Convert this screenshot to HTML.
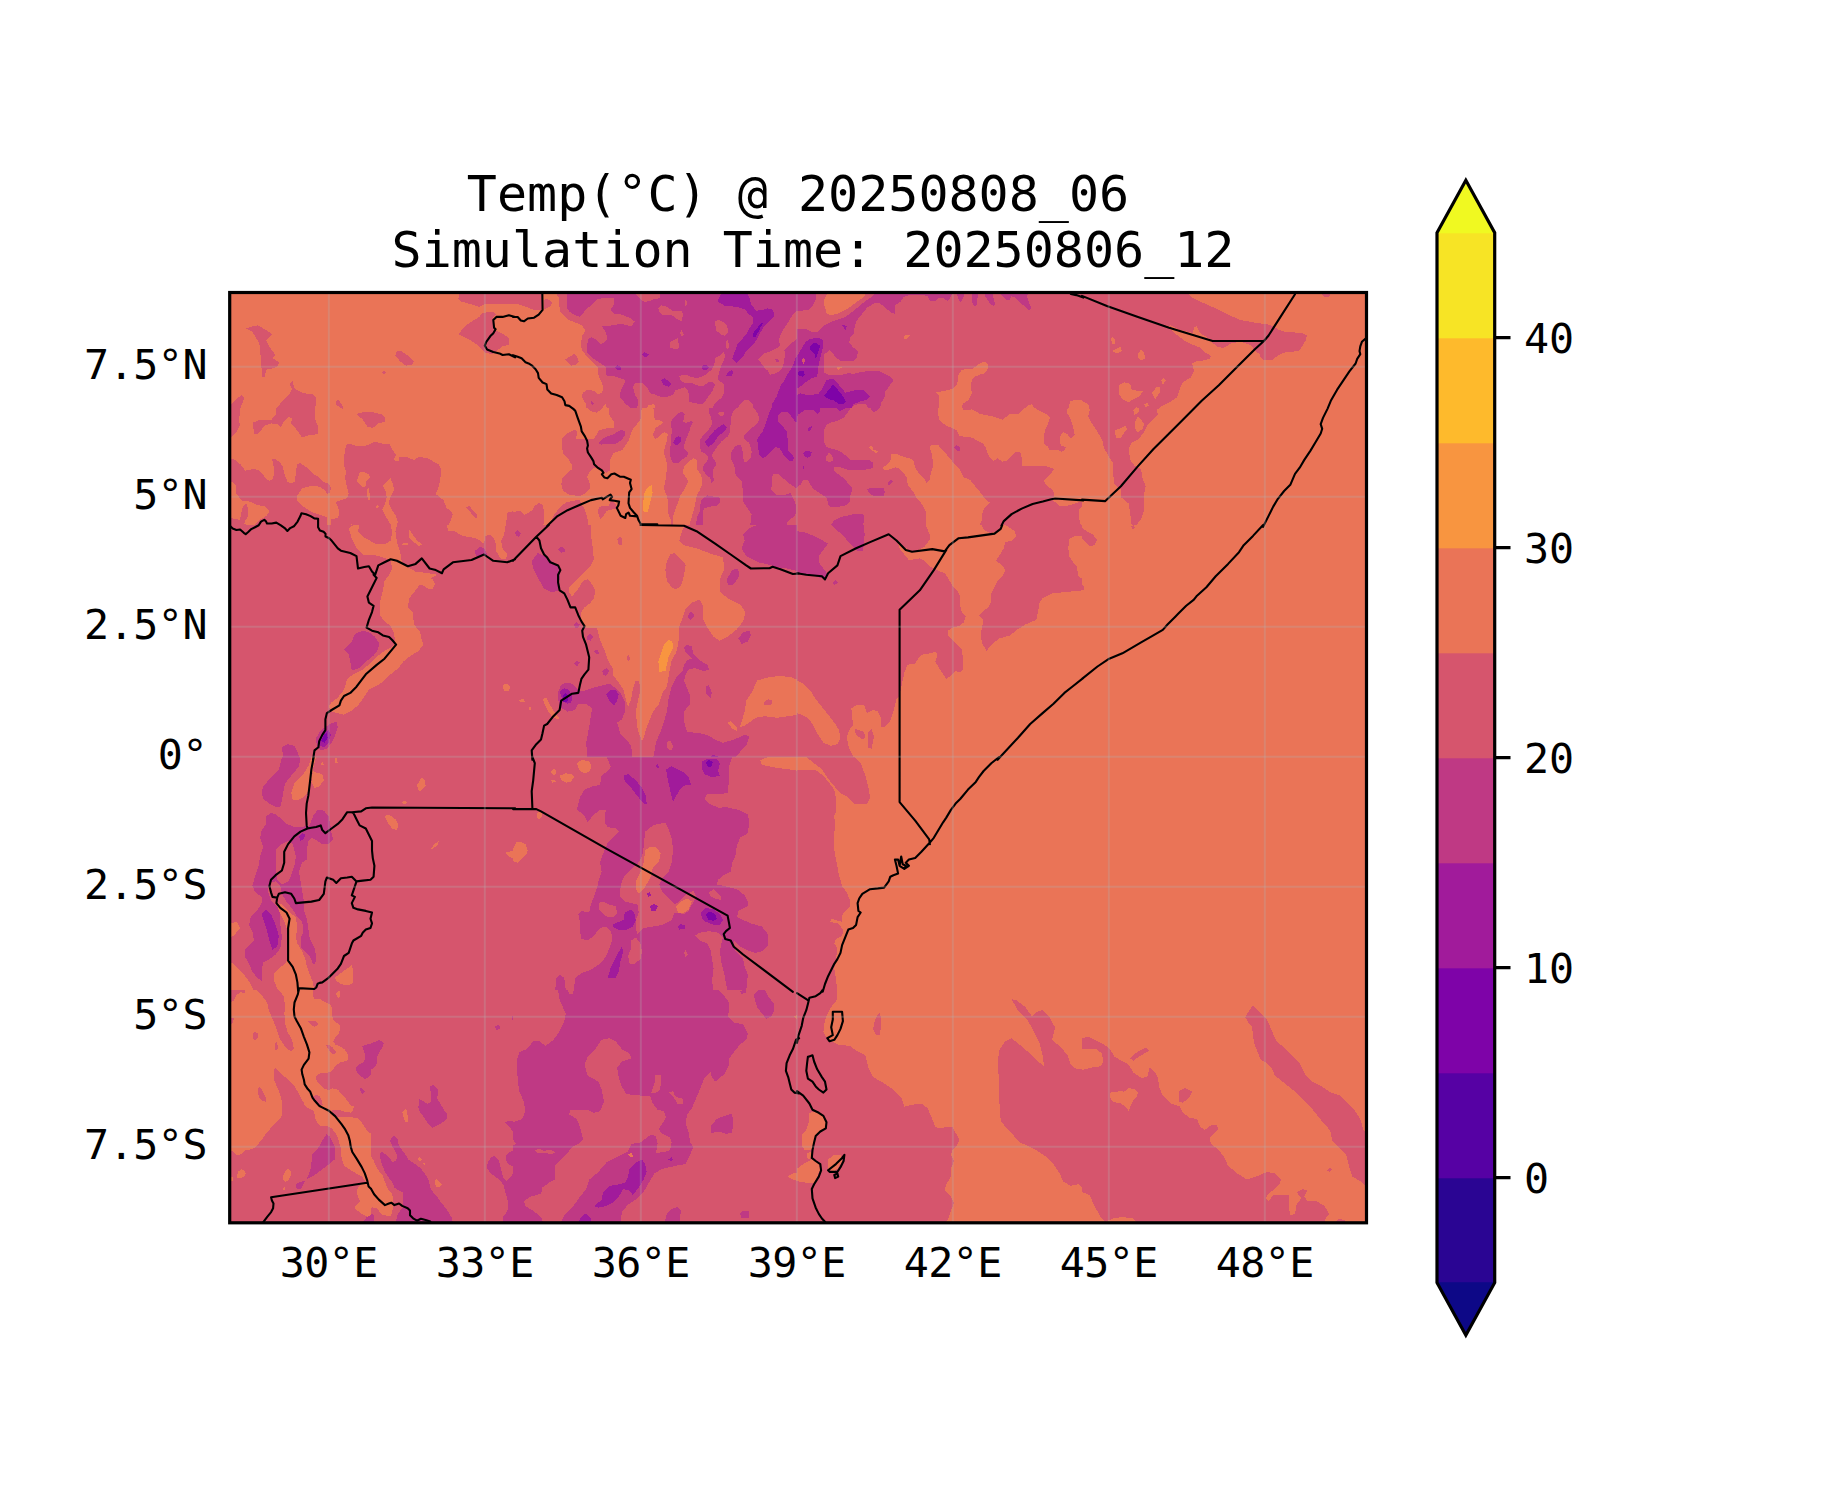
<!DOCTYPE html>
<html><head><meta charset="utf-8"><title>Temp</title>
<style>html,body{margin:0;padding:0;background:#fff;overflow:hidden}svg{display:block}</style>
</head><body>
<svg width="1833" height="1500" viewBox="0 0 1833 1500"><rect width="1833" height="1500" fill="#fff"/><defs><clipPath id="ax"><rect x="229.7" y="292.5" width="1136.8" height="930.3"/></clipPath></defs><g clip-path="url(#ax)" shape-rendering="crispEdges"><rect x="229.7" y="292.5" width="1136.8" height="930.3" fill="#ea7457"/><clipPath id="g0"><rect x="229" y="292" width="285" height="233"/></clipPath><g clip-path="url(#g0)"><rect x="229" y="292" width="285" height="233" fill="#ea7457"/><path d="M244.2 329.0L252.3 326.5L257.8 325.4L266.3 330.1L272.5 334.3L266.3 340.2L270.2 348.0L275.6 355.0L272.5 358.1L279.5 362.7L277.2 366.6L270.2 369.0L266.3 369.7L264.8 376.7L262.4 376.7L261.6 369.0L260.9 358.9L259.3 343.3L252.3 331.6L247.7 329.3Z" fill="#d6556d"/><path d="M458.3 299.0L459.1 293.6L515.1 293.6L515.1 303.7L484.0 304.4L479.3 306.8L471.5 304.4L460.7 301.3Z" fill="#d6556d"/><path d="M458.3 334.0L466.9 324.6L479.3 316.9L482.4 313.0L493.3 311.4L496.4 314.5L493.3 317.7L494.1 326.2L496.4 330.9L504.2 334.8L509.6 338.6L508.9 344.9L502.6 346.4L496.4 351.1L491.7 354.2L485.5 352.6L477.8 344.9L470.0 340.2Z" fill="#d6556d"/><path d="M396.1 351.9L400.0 350.3L407.8 355.7L414.0 361.2L412.5 364.3L406.2 365.8L400.0 361.2L395.4 355.7Z" fill="#d6556d"/><path d="M381.4 372.1L384.5 371.0L386.8 372.8L383.7 374.4Z" fill="#d6556d"/><path d="M253.1 422.6L260.1 419.5L271.0 420.3L275.6 414.8L275.6 409.4L281.9 401.6L288.9 394.6L292.0 389.2L289.6 384.5L292.7 380.6L294.3 388.4L303.6 393.1L313.7 394.6L316.1 397.7L315.3 408.6L315.3 419.5L318.4 427.3L317.6 434.3L309.8 435.0L302.1 437.4L295.9 428.8L291.2 423.4L292.0 417.9L288.1 417.2L283.4 422.6L281.1 427.3L277.2 424.2L271.0 423.4L264.8 425.7L257.8 434.3L253.9 434.3Z" fill="#d6556d"/><path d="M229.0 407.0L237.6 397.7L241.4 395.4L244.5 397.7L240.7 407.0L239.1 419.5L239.9 425.7L236.8 431.9L229.0 439.7Z" fill="#d6556d"/><path d="M335.5 400.8L338.6 400.1L342.5 405.5L343.3 409.4L340.2 407.8L336.3 404.7Z" fill="#d6556d"/><path d="M356.5 414.0L364.3 412.0L373.6 412.5L382.9 414.8L385.2 417.9L385.2 421.8L378.3 423.4L372.8 428.0L367.4 426.5L362.7 419.5Z" fill="#d6556d"/><path d="M344.0 456.8L346.4 445.1L353.4 444.4L364.3 445.9L375.1 442.5L389.1 445.1L395.4 454.5L394.6 459.9L400.0 456.8L406.2 456.8L414.0 459.9L418.7 456.8L428.0 458.4L438.9 464.6L441.2 469.2L440.4 478.6L438.9 486.3L435.8 494.1L443.6 500.3L446.7 508.1L451.3 511.2L452.9 514.3L448.2 526.8L344.0 526.8Z" fill="#d6556d"/><path d="M382.9 486.3L389.1 478.6L392.2 483.2L393.8 491.0L392.2 498.8L396.1 514.3L396.9 526.8L384.5 526.8L382.1 509.7L386.0 498.8Z" fill="#ea7457"/><path d="M466.1 507.3L469.2 505.8L477.8 515.9L476.2 519.0Z" fill="#d6556d"/><path d="M507.3 512.8L515.1 510.4L515.1 526.8L505.7 526.8Z" fill="#d6556d"/></g><clipPath id="g1"><rect x="229" y="440" width="170" height="85"/></clipPath><g clip-path="url(#g1)"><rect x="229" y="440" width="170" height="85" fill="#ea7457"/><path d="M229.0 458.1L235.5 459.9L241.1 465.0L245.2 470.6L253.1 469.2L257.8 469.7L262.4 473.4L266.1 479.0L269.8 480.8L272.6 479.0L274.5 473.4L273.5 466.0L272.1 459.5L275.4 459.0L280.0 462.3L282.8 466.9L284.7 474.3L287.4 481.7L290.2 483.1L294.9 482.2L295.8 472.5L297.2 464.1L300.4 463.2L306.0 466.9L310.6 471.5L315.3 475.3L319.0 477.1L321.8 480.8L325.5 482.7L328.7 483.6L331.0 488.2L329.6 492.9L327.3 493.8L327.3 542.0L229.0 542.0Z" fill="#d6556d"/><path d="M296.7 496.6L299.5 491.9L302.3 488.2L309.7 486.4L316.2 485.9L320.8 487.3L324.5 490.1L327.3 493.8L329.6 492.9L330.1 495.7L335.7 502.2L338.5 508.6L339.4 514.2L337.5 517.9L333.8 518.8L328.3 517.9L323.6 516.1L318.1 514.2L312.5 512.4L307.8 509.6L302.3 505.9L297.6 501.2Z" fill="#ea7457"/><path d="M229.0 482.7L233.2 482.2L236.0 485.5L236.4 493.8L239.2 496.6L229.0 496.6Z" fill="#ea7457"/><path d="M229.0 496.6L237.3 496.6L242.9 500.8L250.3 501.7L256.8 504.9L264.3 506.3L269.8 511.0L266.1 516.1L259.6 519.8L255.0 524.4L250.3 525.8L244.3 524.0L245.2 520.7L248.0 516.1L248.5 509.6L246.6 504.0L243.8 504.9L242.0 508.6L241.1 514.2L240.1 519.8L229.0 517.9Z" fill="#ea7457"/><path d="M344.0 457.6L345.9 445.6L346.8 444.2L351.4 444.2L355.2 445.6L366.3 445.6L373.7 442.3L377.4 442.3L384.8 444.2L389.5 444.2L392.3 449.3L396.0 454.8L394.1 458.6L395.0 460.9L399.7 460.9L399.7 542.0L331.0 542.0L331.0 518.8L333.8 518.8L337.5 517.9L339.4 514.2L338.5 508.6L335.7 502.2L340.3 500.3L346.8 498.4L348.7 493.8L346.8 486.4L345.0 477.1L346.3 472.5L344.0 466.0Z" fill="#d6556d"/><path d="M357.0 480.8L359.8 472.5L364.4 472.0L369.1 474.3L370.0 477.1L366.3 480.8L365.4 486.4L362.6 486.8L358.9 483.6Z" fill="#ea7457"/><path d="M367.2 489.2L369.1 488.2L370.0 499.4L368.6 500.8L367.2 495.7Z" fill="#ea7457"/><path d="M383.0 485.5L387.6 480.8L390.4 478.0L392.3 482.7L394.1 489.2L392.3 493.8L390.4 497.5L388.6 503.1L392.3 510.5L396.0 516.1L397.8 521.6L396.9 525.3L395.0 529.1L392.3 526.3L388.6 521.6L384.8 514.2L382.1 509.6L384.8 504.9L386.7 497.5L385.8 491.9Z" fill="#ea7457"/><path d="M347.7 526.3L351.4 524.4L357.0 529.1L363.5 533.7L368.1 538.3L368.1 542.0L348.7 542.0L347.7 532.8Z" fill="#ea7457"/><path d="M392.3 536.5L394.1 532.8L396.0 534.6L396.0 542.0L391.3 542.0Z" fill="#ea7457"/><path d="M375.6 506.3L377.4 504.9L378.8 506.8L377.0 508.6Z" fill="#ea7457"/></g><clipPath id="g2"><rect x="513" y="292" width="143" height="117"/></clipPath><g clip-path="url(#g2)"><rect x="513" y="292" width="143" height="117" fill="#ea7457"/><path d="M513.0 292.0L541.9 292.0L541.9 309.9L538.7 309.9L533.3 309.6L527.0 307.2L517.7 304.1L513.0 303.7Z" fill="#d6556d"/><path d="M543.8 299.8L547.3 299.0L551.2 301.4L552.0 303.7L549.7 306.8L545.8 308.8L543.8 308.4Z" fill="#d6556d"/><path d="M555.1 292.0L559.0 298.2L559.8 311.5L567.6 319.3L577.0 323.2L581.7 325.5L585.6 330.2L582.4 335.7L580.9 342.7L581.7 349.7L587.1 356.8L594.9 364.6L598.0 367.7L598.0 373.9L601.2 381.7L603.5 387.2L601.9 392.6L598.0 394.2L594.1 391.1L587.9 389.5L583.2 392.6L581.7 396.5L585.6 403.6L586.3 409.8L656.5 409.8L656.5 292.0Z" fill="#d6556d"/><path d="M567.6 292.0L634.7 292.0L637.8 296.7L641.7 300.6L645.6 302.1L650.3 300.6L656.5 298.2L656.5 394.2L651.1 394.2L647.2 388.0L641.7 382.5L635.5 382.5L633.1 387.2L634.7 394.2L637.8 399.7L638.6 404.3L635.5 409.8L633.1 409.8L626.1 404.3L619.9 397.3L620.7 390.3L625.3 381.7L623.8 379.4L614.4 376.3L606.6 376.3L605.8 366.9L598.8 362.2L591.0 356.8L587.1 352.9L587.1 346.6L587.9 338.8L591.8 337.2L596.5 339.6L600.4 344.3L605.1 341.9L607.4 338.0L605.1 331.0L601.9 326.3L608.2 326.3L614.4 324.8L622.2 324.0L631.6 326.3L634.7 321.6L630.8 318.5L622.2 314.6L614.4 313.8L610.5 309.9L614.4 303.7L614.4 298.2L606.6 297.9L597.3 299.0L591.0 305.3L586.3 309.2L580.1 317.0L575.4 315.4L569.2 311.5L566.8 307.6Z" fill="#bf3984"/><path d="M641.7 354.4L644.8 352.1L648.7 354.4L647.2 356.8L643.3 356.4Z" fill="#a11b9b"/><path d="M614.4 367.7L617.5 365.3L621.4 367.3L621.4 370.0L617.5 369.6Z" fill="#a11b9b"/><path d="M565.3 359.5L573.9 354.0L577.0 356.0L578.9 362.2L575.4 364.6L571.5 365.7Z" fill="#d6556d"/><path d="M590.2 402.0L591.8 400.8L593.7 403.6L592.6 405.5Z" fill="#bf3984"/><path d="M602.7 407.5L605.4 404.0L607.8 409.8L602.7 409.8Z" fill="#ea7457"/><path d="M645.6 409.8L648.7 405.1L653.4 404.3L656.5 405.9L656.5 409.8Z" fill="#ea7457"/></g><clipPath id="g3"><rect x="513" y="408" width="143" height="117"/></clipPath><g clip-path="url(#g3)"><rect x="513" y="408" width="143" height="117" fill="#ea7457"/><path d="M562.1 438.4L567.6 433.0L574.6 429.5L577.0 431.4L576.2 439.2L594.1 438.8L598.8 430.6L606.6 428.3L613.6 427.5L614.4 422.8L609.7 415.8L608.6 408.0L641.7 408.0L640.9 418.9L632.4 429.8L628.5 440.8L622.2 450.1L613.6 453.2L610.5 459.5L609.7 470.4L606.6 472.8L602.7 471.2L594.9 467.3L590.2 471.2L587.1 476.7L589.5 482.9L589.5 489.1L584.8 493.8L580.1 496.2L569.2 494.6L562.9 490.7L561.4 484.5L562.1 478.2L567.6 472.8L572.3 468.9L572.3 465.7L567.6 457.9L562.9 453.2L562.1 447.0Z" fill="#d6556d"/><path d="M587.9 408.0L601.9 408.0L600.4 410.3L596.5 412.7L591.0 411.1Z" fill="#d6556d"/><path d="M598.0 443.1L604.3 437.6L612.9 434.5L621.4 429.5L625.3 431.4L625.3 435.3L620.7 440.8L616.0 443.5L606.6 443.9L601.2 444.7Z" fill="#bf3984"/><path d="M653.4 408.0L656.5 408.0L656.5 418.9L654.2 417.4Z" fill="#d6556d"/><path d="M652.6 434.5L656.5 426.7L656.5 439.2L654.2 437.6Z" fill="#d6556d"/><path d="M642.5 509.4L644.1 493.8L648.0 486.8L651.9 485.2L652.6 492.3L650.3 501.6L648.0 511.8L644.1 511.8Z" fill="#f89540"/><path d="M513.0 511.8L520.8 511.0L524.7 514.9L532.5 510.2L534.1 506.3L538.7 503.2L542.6 504.7L544.2 511.8L543.4 525.8L513.0 525.8Z" fill="#d6556d"/><path d="M553.6 515.7L559.8 507.1L566.1 502.4L572.3 500.8L579.3 500.1L581.7 504.7L584.8 509.4L587.1 517.2L588.7 525.8L548.9 525.8Z" fill="#d6556d"/><path d="M598.8 507.1L603.5 505.5L609.0 505.5L611.3 500.1L616.0 504.0L616.8 508.6L612.1 509.4L606.6 511.0L602.7 517.2L600.4 518.8L598.0 513.3Z" fill="#d6556d"/></g><clipPath id="g4"><rect x="655" y="292" width="143" height="117"/></clipPath><g clip-path="url(#g4)"><rect x="655" y="292" width="143" height="117" fill="#bf3984"/><path d="M655.0 292.0L659.7 292.0L659.7 297.5L656.6 299.0L655.0 299.0Z" fill="#d6556d"/><path d="M658.1 308.4L661.2 305.3L665.9 306.4L670.6 309.2L673.7 311.5L681.5 311.1L683.1 313.8L681.9 320.9L678.4 320.1L673.7 316.2L670.6 314.6L663.6 315.4L659.7 312.3Z" fill="#d6556d"/><path d="M685.0 300.2L686.2 299.8L687.0 303.7L685.8 306.8L685.0 303.7Z" fill="#d6556d"/><path d="M680.0 332.6L681.5 330.2L683.9 334.5L681.9 336.9Z" fill="#d6556d"/><path d="M669.8 341.9L673.7 340.4L677.6 338.0L678.4 342.7L679.2 346.6L677.6 349.0L670.6 348.2Z" fill="#d6556d"/><path d="M715.1 320.9L719.8 320.1L723.7 322.4L726.8 325.5L727.9 328.7L727.6 333.3L724.4 335.7L720.5 334.1L715.9 330.2Z" fill="#d6556d"/><path d="M726.0 341.9L727.6 340.0L728.7 343.5L729.1 348.2L726.8 349.0L726.0 345.8Z" fill="#d6556d"/><path d="M679.2 376.3L682.3 375.1L687.8 375.5L692.4 377.4L698.7 377.8L705.7 374.7L711.2 370.0L714.3 365.3L715.1 358.3L719.0 356.0L723.7 352.1L724.8 354.4L724.4 359.1L722.1 363.8L719.8 370.0L718.2 376.3L718.2 379.4L720.5 381.7L724.4 384.8L723.7 393.4L722.1 397.3L717.4 401.2L714.3 404.3L712.0 409.8L655.0 409.8L655.0 395.0L659.7 396.5L667.5 396.5L672.9 395.0L675.3 390.3L684.6 387.2L687.8 390.3L689.3 396.5L688.5 401.2L692.4 402.8L697.1 403.6L702.6 403.6L705.7 400.4L709.6 395.0L712.7 390.3L715.1 384.8L712.0 381.7L709.6 381.7L703.4 385.6L697.9 385.6L692.4 383.3L686.2 383.3L680.7 380.9Z" fill="#d6556d"/><path d="M758.0 359.1L764.2 353.6L770.5 351.3L776.7 348.2L779.8 345.8L779.0 338.8L782.9 330.2L787.6 323.2L792.3 315.4L796.2 310.7L798.5 310.7L798.5 337.2L796.2 339.6L789.2 345.1L784.5 350.5L784.5 358.3L782.9 366.9L779.8 370.8L774.4 373.9L769.7 374.7L768.1 370.8L765.8 369.2L762.7 365.3Z" fill="#d6556d"/><path d="M775.1 359.5L777.5 358.7L779.0 360.7L778.3 362.2L775.9 361.4Z" fill="#bf3984"/><path d="M736.1 409.8L740.8 403.6L743.9 400.4L749.4 400.4L752.5 403.6L754.1 409.8Z" fill="#d6556d"/><path d="M717.4 301.4L720.5 295.1L723.7 292.0L747.1 292.0L750.2 299.8L751.0 304.5L756.4 310.7L762.7 309.9L767.3 308.4L772.0 309.2L773.6 312.3L773.6 317.0L768.9 321.6L764.2 326.3L760.3 332.6L756.4 340.4L752.5 345.1L746.3 351.3L743.2 356.0L740.8 359.1L736.1 363.0L732.2 359.1L733.8 353.6L736.1 348.2L737.7 343.5L742.4 338.8L746.3 334.1L750.2 327.1L753.3 322.4L753.3 317.7L748.6 313.8L744.7 309.2L736.9 306.8L725.2 306.0Z" fill="#a11b9b"/><path d="M752.5 337.2L754.1 331.0L758.0 327.1L761.9 322.4L763.1 323.2L761.1 326.3L758.0 332.6L755.6 336.5Z" fill="#7e03a8"/><path d="M701.8 366.9L704.9 364.2L708.1 366.1L708.8 367.7L706.5 370.0L702.6 369.6Z" fill="#a11b9b"/><path d="M726.8 373.1L729.9 370.8L732.2 370.0L733.0 373.1L731.5 375.9L726.4 375.9Z" fill="#a11b9b"/><path d="M661.2 380.2L664.4 378.2L668.3 380.9L671.8 384.1L668.3 386.8L663.6 384.8Z" fill="#a11b9b"/><path d="M772.0 404.3L776.7 396.5L780.6 385.6L783.7 381.7L787.6 373.9L792.3 366.9L795.4 358.3L798.5 356.0L798.5 409.8L771.2 409.8Z" fill="#a11b9b"/></g><clipPath id="g5"><rect x="655" y="408" width="143" height="117"/></clipPath><g clip-path="url(#g5)"><rect x="655" y="408" width="143" height="117" fill="#d6556d"/><path d="M655.0 419.7L658.1 419.7L663.6 422.4L659.7 425.2L655.0 428.3Z" fill="#ea7457"/><path d="M655.0 439.2L658.1 437.6L662.8 433.0L665.1 432.2L667.9 434.5L666.7 440.8L665.1 447.0L663.6 451.7L665.1 456.4L666.7 462.6L666.7 470.4L665.9 478.2L664.4 486.0L664.4 489.9L666.7 495.4L668.3 501.6L668.3 513.3L670.6 519.6L671.4 525.8L655.0 525.8Z" fill="#ea7457"/><path d="M683.1 470.4L684.6 465.7L688.5 461.8L693.2 458.3L697.1 460.3L697.1 468.9L701.0 475.1L702.6 479.8L701.8 485.2L699.5 490.7L697.1 494.6L695.6 501.6L694.0 509.4L691.7 517.2L689.3 525.8L672.9 525.8L672.9 517.2L675.3 509.4L678.4 501.6L680.0 496.2L683.1 491.5L686.2 486.0L688.5 481.3L686.2 477.4L683.1 473.5Z" fill="#ea7457"/><path d="M670.6 422.8L673.7 417.4L678.4 412.7L682.3 412.3L684.6 414.2L683.1 422.0L686.2 422.8L690.1 421.3L693.2 421.7L690.9 425.9L689.3 431.4L686.2 439.2L683.9 445.4L684.6 449.3L688.5 452.5L687.0 456.4L682.3 459.5L678.4 463.4L672.9 462.6L670.6 457.9L669.8 453.2L670.6 445.4L670.6 437.6L672.2 431.4Z" fill="#bf3984"/><path d="M708.8 408.0L736.1 408.0L733.0 411.1L731.5 415.8L730.7 423.6L729.9 431.4L728.3 436.1L721.3 441.5L715.9 448.6L712.7 453.2L712.0 456.4L715.9 462.6L716.6 464.2L713.5 468.9L712.7 475.9L714.3 479.8L711.2 482.9L710.4 478.2L706.5 475.1L703.4 470.4L703.4 465.7L707.3 461.1L708.1 456.4L704.9 453.2L701.0 451.7L700.2 447.0L700.2 439.2L704.9 433.7L709.6 428.3L712.0 423.6L711.2 417.4L708.8 412.7Z" fill="#bf3984"/><path d="M754.1 408.0L798.5 408.0L798.5 487.6L795.4 487.6L790.7 484.5L782.9 478.2L779.0 474.3L772.8 474.3L772.0 478.2L772.0 486.0L770.5 489.1L774.4 493.0L777.5 495.4L783.7 495.4L790.7 493.0L793.1 497.7L796.2 505.5L795.4 515.7L790.7 518.8L787.6 521.9L786.8 525.8L750.2 525.8L751.7 514.1L747.1 507.9L743.2 501.6L743.2 493.8L741.6 481.3L735.4 474.3L734.6 467.3L733.0 462.6L730.7 458.7L731.5 451.7L734.6 447.0L737.7 445.1L740.8 445.4L742.4 450.1L743.2 456.4L743.9 462.6L747.8 461.1L751.0 457.1L751.7 451.7L750.2 445.4L748.6 442.3L744.7 440.0L743.9 436.1L746.3 433.0L752.5 427.5L757.2 423.6L759.5 418.9L758.0 414.2Z" fill="#bf3984"/><path d="M700.2 504.7L701.8 499.3L707.3 495.4L711.2 496.2L719.8 497.7L720.5 501.6L716.6 505.5L708.1 507.1L704.1 508.6L702.6 512.5L702.6 525.8L695.6 525.8L697.1 517.2L699.5 511.8Z" fill="#bf3984"/><path d="M718.2 413.5L719.8 411.9L723.7 412.3L724.8 414.2L722.9 415.8L719.0 415.4Z" fill="#d6556d"/><path d="M672.9 443.1L675.3 438.4L678.4 436.1L680.7 437.6L681.5 440.0L680.0 442.3L676.8 445.4Z" fill="#a11b9b"/><path d="M704.9 442.3L709.6 436.1L715.1 429.8L720.5 425.9L723.7 424.4L726.8 427.5L725.2 430.6L720.5 434.5L716.6 438.4L713.5 443.1L708.1 447.0Z" fill="#a11b9b"/><path d="M757.2 439.2L762.7 431.4L765.8 423.6L768.1 415.8L771.2 408.0L798.5 408.0L798.5 422.0L795.4 422.0L791.5 416.6L787.6 411.9L781.4 411.5L778.3 415.0L778.3 422.0L782.9 426.7L786.8 431.4L787.6 439.2L787.6 450.1L792.3 454.8L793.9 457.9L792.3 461.1L788.4 460.3L783.7 454.8L779.8 448.6L775.9 447.0L770.5 451.7L765.8 456.4L762.7 458.7L759.5 454.8L758.0 447.0Z" fill="#a11b9b"/></g><clipPath id="g6"><rect x="797" y="292" width="143" height="117"/></clipPath><g clip-path="url(#g6)"><rect x="797" y="292" width="143" height="117" fill="#d6556d"/><path d="M797.0 292.0L816.5 292.0L815.7 299.8L812.6 306.0L808.7 309.9L801.7 310.7L797.0 310.7Z" fill="#bf3984"/><path d="M797.0 329.4L807.1 329.4L811.0 331.8L817.3 331.8L825.1 324.8L833.7 320.9L840.7 318.5L845.4 317.0L851.6 312.3L859.4 306.0L864.9 301.4L871.9 296.7L877.4 292.0L940.5 292.0L940.5 296.7L935.9 300.6L929.6 300.6L927.3 295.9L921.8 295.1L909.3 295.1L903.9 296.7L900.8 301.4L895.3 305.3L895.3 313.8L892.2 313.1L885.9 308.4L879.7 302.9L874.2 303.3L867.2 307.6L864.1 311.5L859.4 317.0L856.3 321.6L854.7 326.3L854.0 333.3L850.1 337.2L849.3 342.7L853.2 347.4L857.9 351.3L857.1 357.5L854.0 360.7L846.9 361.4L840.7 360.7L836.0 357.5L832.9 353.6L829.8 349.7L824.3 354.4L823.5 372.4L828.2 374.7L835.2 375.5L842.2 374.7L848.5 373.1L854.0 373.9L859.4 372.4L866.4 371.2L879.7 371.2L884.4 373.9L890.6 377.0L893.7 380.2L889.1 386.4L885.2 391.9L884.4 397.3L881.3 402.8L879.7 409.8L869.6 409.8L865.7 404.3L859.4 403.6L853.2 405.9L850.8 409.8L797.0 409.8Z" fill="#bf3984"/><path d="M824.3 299.0L826.6 295.1L829.8 292.0L867.2 292.0L862.5 298.2L856.3 302.1L851.6 306.0L845.4 309.9L839.1 313.1L831.3 315.4L826.6 313.8L825.9 309.9L824.3 306.0Z" fill="#ea7457"/><path d="M797.0 356.0L801.7 348.2L805.6 341.9L810.3 338.8L817.3 338.0L822.0 338.8L823.5 341.9L822.7 348.2L821.2 354.4L819.6 360.7L818.1 367.7L817.3 376.3L812.6 377.8L808.7 380.2L803.2 384.1L798.6 388.0L797.0 388.0Z" fill="#a11b9b"/><path d="M797.0 409.8L797.0 395.0L800.1 393.4L807.1 395.0L818.1 394.2L822.7 388.0L826.6 380.2L831.3 378.6L835.2 380.2L840.7 387.2L845.4 392.6L851.6 391.1L857.9 389.5L862.5 389.5L867.2 393.4L869.9 396.5L867.2 399.7L861.0 401.2L853.2 404.3L850.8 409.8Z" fill="#a11b9b"/><path d="M809.5 346.6L813.4 343.1L817.3 343.5L820.0 345.8L818.8 350.5L817.3 354.4L815.7 359.1L814.9 354.4L810.3 349.7Z" fill="#7e03a8"/><path d="M798.2 371.6L800.9 370.8L804.0 371.6L804.8 374.7L802.5 376.6L798.6 375.5Z" fill="#7e03a8"/><path d="M824.3 395.8L828.2 390.3L832.9 384.8L837.6 389.5L843.8 397.3L845.8 401.2L843.8 404.3L839.1 404.3L833.7 400.4L828.2 398.9Z" fill="#7e03a8"/><path d="M842.2 325.5L844.6 325.2L846.9 326.3L845.4 329.8L843.8 327.9Z" fill="#a11b9b"/><path d="M802.1 359.9L803.6 357.9L804.8 359.1L804.4 363.0L803.2 364.6Z" fill="#d6556d"/><path d="M903.9 336.5L905.4 334.5L910.9 334.5L907.0 338.8L904.3 338.8Z" fill="#ea7457"/><path d="M836.0 367.7L838.3 367.3L841.9 367.3L838.3 370.0Z" fill="#ea7457"/><path d="M935.1 392.2L940.5 391.9L940.5 395.8L939.0 395.0Z" fill="#ea7457"/></g><clipPath id="g7"><rect x="797" y="408" width="143" height="117"/></clipPath><g clip-path="url(#g7)"><rect x="797" y="408" width="143" height="117" fill="#d6556d"/><path d="M797.0 408.0L850.8 408.0L846.9 413.5L843.8 417.4L837.6 420.5L830.5 422.8L826.6 424.4L824.3 429.8L824.3 442.3L826.6 447.0L831.3 448.6L837.6 450.1L843.0 453.2L850.1 459.5L869.6 459.9L872.7 462.6L872.7 468.1L865.7 469.6L857.9 469.6L850.1 470.4L840.7 467.3L833.7 467.3L833.7 470.4L838.3 474.3L843.8 478.2L847.7 482.9L851.6 486.8L852.4 489.9L850.1 496.2L850.1 501.6L845.4 505.5L833.7 507.5L829.0 506.3L826.6 497.7L820.4 493.8L812.6 488.4L809.5 482.9L807.9 479.8L803.2 480.2L800.1 485.2L797.0 486.8Z" fill="#bf3984"/><path d="M825.9 456.4L829.0 452.9L832.1 455.6L833.7 460.3L829.8 461.8L826.3 461.1Z" fill="#d6556d"/><path d="M870.3 408.0L878.9 408.0L876.6 411.1L873.5 411.9L871.1 409.6Z" fill="#bf3984"/><path d="M867.2 489.1L871.1 488.0L883.6 488.0L884.8 492.3L883.6 495.8L873.5 495.8L868.8 493.0Z" fill="#bf3984"/><path d="M887.9 482.1L891.4 479.8L893.7 481.3L889.8 484.8L888.3 484.8Z" fill="#bf3984"/><path d="M829.8 525.8L834.4 520.3L840.7 517.2L850.1 514.9L855.5 513.7L863.3 514.5L864.1 517.2L863.3 525.8Z" fill="#bf3984"/><path d="M797.0 408.0L820.4 408.0L819.6 411.9L817.3 413.9L814.9 411.9L812.6 409.6L804.8 410.0L798.6 414.2L797.0 417.4Z" fill="#a11b9b"/><path d="M836.0 408.0L845.4 408.0L842.2 410.3L839.1 410.7Z" fill="#a11b9b"/><path d="M807.9 428.3L809.9 426.7L811.8 426.3L811.4 429.1L809.5 431.0L807.9 430.6Z" fill="#a11b9b"/><path d="M802.9 453.2L805.6 451.3L809.5 451.3L811.8 452.5L810.7 455.6L807.9 457.9L804.8 456.4Z" fill="#a11b9b"/><path d="M802.1 468.1L803.6 466.1L804.0 470.0Z" fill="#a11b9b"/><path d="M882.8 467.3L887.5 464.2L890.6 460.3L891.4 454.0L897.6 454.4L904.7 457.1L910.9 458.7L914.0 461.8L914.8 467.3L918.7 472.8L924.9 479.8L926.5 482.9L929.6 479.8L931.2 472.0L932.7 467.3L932.7 459.5L931.2 451.7L929.6 447.8L931.2 445.4L940.5 445.4L940.5 525.8L925.7 525.8L925.7 511.8L921.8 504.0L916.4 497.7L913.2 491.5L907.8 485.2L907.0 478.2L903.1 472.0L898.4 468.1L895.3 467.3L891.4 468.9L889.1 469.6L883.6 469.6Z" fill="#ea7457"/><path d="M868.8 447.8L871.1 445.1L873.1 447.8L872.7 450.5L875.0 450.1L878.9 451.3L875.8 452.9L871.9 450.5Z" fill="#ea7457"/><path d="M938.2 408.0L940.5 408.0L940.5 419.7L938.6 418.9Z" fill="#ea7457"/></g><clipPath id="g8"><rect x="939" y="292" width="143" height="117"/></clipPath><g clip-path="url(#g8)"><rect x="939" y="292" width="143" height="117" fill="#d6556d"/><path d="M939.0 292.0L953.0 292.0L951.5 295.1L948.4 300.6L946.8 300.6L942.1 297.5L939.0 297.5Z" fill="#bf3984"/><path d="M956.9 292.0L964.7 292.0L964.0 296.7L960.8 301.8L959.3 300.6L957.7 296.7Z" fill="#bf3984"/><path d="M971.8 292.0L978.8 292.0L977.2 299.8L976.4 306.4L974.1 306.4L972.5 302.9Z" fill="#bf3984"/><path d="M983.5 292.0L992.8 292.0L993.6 299.0L995.2 304.5L993.6 306.4L989.7 302.9L985.8 297.5Z" fill="#bf3984"/><path d="M999.9 292.0L1027.9 292.0L1027.2 296.7L1028.7 302.1L1031.8 309.2L1028.7 309.9L1023.3 305.3L1016.2 299.0L1013.9 296.7L1010.8 296.3L1010.0 299.8L1007.7 300.6L1003.8 297.5L1000.6 294.3Z" fill="#bf3984"/><path d="M939.0 391.9L946.8 390.3L953.0 388.7L956.2 385.6L957.7 381.7L958.5 374.7L961.6 370.0L966.3 369.2L973.3 368.5L978.0 364.6L982.7 362.2L986.6 362.6L988.1 365.3L987.4 370.0L985.0 373.1L979.6 374.7L974.1 377.0L971.8 380.2L971.0 385.6L971.8 393.4L968.6 400.4L964.0 402.8L961.6 405.9L962.4 409.8L939.0 409.8Z" fill="#ea7457"/><path d="M1023.3 409.8L1028.7 405.1L1031.8 404.3L1034.2 407.5L1035.7 409.8Z" fill="#ea7457"/><path d="M1068.5 409.8L1070.1 401.2L1074.0 400.1L1082.5 400.4L1082.5 409.8Z" fill="#ea7457"/></g><clipPath id="g9"><rect x="939" y="408" width="143" height="117"/></clipPath><g clip-path="url(#g9)"><rect x="939" y="408" width="143" height="117" fill="#ea7457"/><path d="M962.4 408.0L1024.0 408.0L1019.4 413.5L1009.2 414.2L1003.0 419.7L993.6 416.6L985.8 415.0L979.6 413.9L975.7 411.1L971.8 409.2L968.6 410.3L964.0 410.3Z" fill="#d6556d"/><path d="M1035.7 408.0L1067.7 408.0L1066.9 412.7L1070.1 418.1L1073.2 427.5L1074.7 434.5L1070.8 438.4L1067.7 434.5L1063.0 432.2L1060.7 434.5L1059.9 440.8L1060.7 445.4L1066.2 447.0L1063.8 450.9L1061.5 451.7L1057.6 450.1L1049.8 450.5L1048.2 447.0L1044.3 443.9L1043.5 439.2L1045.1 429.8L1048.2 423.6L1049.8 417.4L1046.7 414.2L1042.0 411.9L1037.3 409.6Z" fill="#d6556d"/><path d="M939.0 419.7L942.1 422.8L946.8 425.9L953.0 428.3L956.9 430.6L959.3 436.1L971.8 437.6L978.0 440.8L982.7 443.1L985.8 447.8L988.9 456.4L993.6 461.1L997.5 457.9L1002.2 461.8L1007.7 460.3L1012.3 455.6L1015.5 451.7L1020.1 451.7L1021.7 457.9L1022.5 465.7L1036.5 465.7L1044.3 465.7L1049.8 467.3L1054.5 468.9L1051.3 472.8L1048.2 475.9L1044.3 479.8L1044.3 482.1L1048.2 486.8L1052.1 489.1L1053.7 492.3L1053.7 496.9L1052.1 499.3L1054.5 501.6L1059.1 505.5L1063.8 506.3L1071.6 504.7L1077.9 502.4L1082.5 501.6L1082.5 525.8L979.6 525.8L981.9 519.6L982.7 511.0L985.0 507.1L989.7 502.4L987.4 500.8L985.0 498.5L981.9 494.6L979.6 491.5L974.9 486.0L970.2 479.8L964.0 477.4L961.6 473.5L959.3 468.9L954.6 464.2L951.5 460.3L946.8 454.8L942.1 450.1L939.0 446.2Z" fill="#d6556d"/><path d="M1079.4 509.4L1081.8 506.3L1082.5 506.3L1082.5 525.8L1081.0 525.8L1078.6 517.2Z" fill="#ea7457"/><path d="M954.2 447.4L956.9 445.1L960.1 447.8L959.7 450.5L956.6 450.5Z" fill="#bf3984"/></g><clipPath id="g10"><rect x="1082" y="292" width="285" height="233"/></clipPath><g clip-path="url(#g10)"><rect x="1082" y="292" width="285" height="233" fill="#ea7457"/><path d="M1082.0 292.0L1187.7 292.0L1190.8 296.7L1203.3 302.9L1217.3 309.1L1229.7 315.3L1240.6 320.0L1253.0 322.3L1268.6 324.6L1273.2 326.2L1277.9 329.3L1284.1 331.6L1302.8 333.2L1306.7 335.5L1305.9 340.2L1301.2 348.0L1298.1 351.1L1284.1 352.6L1277.9 355.7L1271.7 360.4L1263.9 360.4L1257.7 354.2L1253.0 348.0L1249.9 344.9L1240.6 341.8L1231.3 343.3L1223.5 348.0L1215.7 346.4L1209.5 343.3L1203.3 340.2L1197.0 337.1L1190.8 332.4L1178.4 329.3L1169.1 324.6L1175.3 330.9L1187.7 337.1L1200.2 343.3L1206.4 349.5L1211.0 355.7L1209.5 358.9L1203.3 360.4L1193.9 363.5L1193.9 371.3L1190.8 377.5L1183.1 382.2L1179.9 388.4L1176.8 397.7L1169.1 402.4L1162.8 405.5L1156.6 410.2L1158.2 414.8L1153.5 419.5L1147.3 425.7L1144.2 431.9L1138.0 439.7L1131.8 442.8L1128.6 449.0L1130.2 459.9L1134.9 466.1L1141.1 469.2L1142.6 478.6L1145.7 486.3L1144.2 494.1L1144.2 509.7L1141.1 519.0L1134.9 526.8L1131.8 526.8L1130.2 512.8L1128.6 503.4L1120.9 497.2L1120.9 489.5L1114.6 484.8L1113.1 473.9L1113.1 463.0L1110.0 458.4L1103.8 447.5L1102.2 439.7L1097.5 431.9L1091.3 422.6L1088.2 416.4L1089.8 410.2L1088.2 403.9L1082.0 400.8Z" fill="#d6556d"/><path d="M1110.8 338.6L1113.1 337.1L1115.4 340.2L1115.4 344.1L1112.3 344.1Z" fill="#ea7457"/><path d="M1112.3 351.1L1117.8 348.0L1120.9 346.4L1121.6 351.1L1117.0 353.4Z" fill="#ea7457"/><path d="M1138.0 354.2L1141.1 349.5L1144.2 352.6L1145.0 358.9L1141.1 360.4L1138.7 358.9Z" fill="#ea7457"/><path d="M1119.3 385.3L1124.0 382.2L1130.2 383.7L1131.8 389.9L1142.6 391.5L1139.5 396.2L1133.3 399.3L1128.6 402.4L1122.4 399.3L1119.3 394.6Z" fill="#ea7457"/><path d="M1152.0 393.1L1156.6 386.8L1159.7 386.8L1160.5 391.5L1155.1 399.3Z" fill="#ea7457"/><path d="M1161.3 380.6L1163.6 378.3L1166.0 380.6L1162.8 384.5Z" fill="#ea7457"/><path d="M1133.3 410.2L1136.4 407.0L1139.5 408.6L1138.0 413.3L1134.1 414.8Z" fill="#ea7457"/><path d="M1134.9 422.6L1138.0 416.4L1141.1 419.5L1144.2 424.2L1142.6 428.8L1138.0 431.9L1135.6 430.4Z" fill="#ea7457"/><path d="M1114.6 430.4L1119.3 428.8L1122.4 427.3L1125.5 425.7L1127.1 428.8L1122.4 435.0L1120.9 438.1L1116.2 438.1Z" fill="#ea7457"/><path d="M1144.2 403.9L1147.3 403.2L1148.9 405.5L1145.7 407.0Z" fill="#ea7457"/><path d="M1319.9 292.0L1330.8 292.0L1329.2 297.4L1324.5 297.4Z" fill="#d6556d"/><path d="M1165.6 325.0L1192.0 334.0L1194.4 327.4L1196.8 326.2L1199.8 332.8L1211.2 340.0L1211.8 342.4L1219.6 348.4L1225.0 348.4L1231.0 344.2L1235.2 343.0L1243.0 343.6L1252.0 349.6L1260.0 354.4L1260.0 370.0L1193.8 370.0L1192.0 363.4L1196.8 361.0L1204.0 361.6L1210.6 359.2L1210.6 355.6L1204.0 352.0L1200.4 347.8L1186.0 341.8L1174.0 332.8Z" fill="#ea7457"/></g><clipPath id="g11"><rect x="229" y="525" width="285" height="233"/></clipPath><g clip-path="url(#g11)"><rect x="229" y="525" width="285" height="233" fill="#d6556d"/><path d="M348.7 528.1L353.4 525.0L359.6 525.0L358.0 531.2L364.3 537.4L375.1 543.7L384.5 544.4L390.7 540.5L392.2 532.8L390.7 525.0L396.9 525.0L395.4 531.2L396.9 542.1L400.0 551.4L401.6 560.8L393.8 562.3L387.6 559.2L378.3 556.1L372.0 554.5L362.7 554.5L356.5 548.3L351.8 539.0Z" fill="#ea7457"/><path d="M390.7 560.8L400.0 559.2L404.7 565.4L415.6 571.6L428.0 573.2L437.3 574.8L431.1 577.9L423.3 577.9L420.2 584.1L415.6 590.3L409.3 598.1L407.8 607.4L412.5 612.1L414.0 624.5L420.2 632.3L421.8 640.0L423.3 644.7L418.7 650.9L410.9 655.6L403.1 661.8L398.5 668.0L390.7 674.3L382.9 682.0L375.1 686.7L368.9 689.8L365.8 694.5L362.7 699.1L358.0 705.3L350.3 711.6L344.0 714.7L337.8 713.1L331.6 711.6L328.5 706.9L331.6 702.2L337.8 697.6L344.0 689.8L347.2 678.9L353.4 674.3L362.7 669.6L372.0 661.8L378.3 655.6L384.5 650.9L390.7 647.8L395.4 643.2L393.8 632.3L390.7 626.1L384.5 621.4L379.8 615.2L379.8 602.7L382.9 590.3L384.5 581.0L389.1 574.8L392.2 568.5Z" fill="#ea7457"/><path d="M418.7 579.4L426.5 576.3L432.7 579.4L435.0 584.1L432.7 588.7L428.0 588.7L423.3 585.6L418.7 584.1Z" fill="#ea7457"/><path d="M446.7 525.0L505.7 525.0L504.2 534.3L501.1 540.5L502.6 548.3L507.3 554.5L505.7 559.2L501.1 559.2L496.4 551.4L496.4 545.2L493.3 537.4L490.2 534.3L485.5 535.9L484.0 543.7L477.8 539.0L471.5 537.4L462.2 535.9L454.4 531.2L448.2 531.2Z" fill="#ea7457"/><path d="M409.3 529.7L412.5 534.3L417.1 540.5L421.8 544.4L418.7 546.0L414.0 542.1L409.3 537.4Z" fill="#ea7457"/><path d="M401.6 543.7L407.8 542.9L407.8 545.2L401.6 545.2Z" fill="#ea7457"/><path d="M502.6 685.1L507.3 683.6L510.4 686.7L508.9 691.4L504.2 691.4Z" fill="#ea7457"/><path d="M344.0 649.4L351.8 641.6L354.9 633.8L362.7 630.7L368.9 632.3L375.1 636.9L379.0 643.2L378.3 649.4L373.6 655.6L365.8 661.8L359.6 668.0L351.8 670.4L350.3 661.8L348.7 654.0Z" fill="#bf3984"/><path d="M474.6 551.4L479.3 546.8L484.0 548.3L487.1 554.5L482.4 556.1L476.2 556.1Z" fill="#bf3984"/><path d="M316.1 738.0L320.7 730.2L330.1 724.0L336.3 721.7L337.8 727.1L334.7 736.4L331.6 742.7L326.9 748.9L320.7 750.4L316.8 745.8Z" fill="#bf3984"/><path d="M281.9 747.3L288.1 744.2L294.3 745.8L297.4 752.0L300.5 759.8L283.4 759.8Z" fill="#bf3984"/><path d="M319.2 739.6L323.8 731.8L328.5 730.2L330.8 734.9L328.5 742.7L323.8 747.3L320.0 745.8Z" fill="#a11b9b"/><path d="M320.7 741.1L324.6 734.1L326.9 733.3L327.7 738.0L324.6 742.7Z" fill="#7e03a8"/></g><clipPath id="g12"><rect x="513" y="525" width="285" height="233"/></clipPath><g clip-path="url(#g12)"><rect x="513" y="525" width="285" height="233" fill="#d6556d"/><path d="M590.7 525.0L640.5 525.0L668.5 525.0L684.0 526.6L680.9 534.3L679.4 540.5L684.0 545.2L696.5 548.3L708.9 553.0L722.9 557.6L724.4 568.5L719.8 579.4L719.8 591.9L727.6 598.1L740.0 604.3L745.4 612.1L743.1 621.4L736.9 629.2L727.6 636.9L719.8 640.8L713.6 636.9L707.3 627.6L702.7 618.3L702.7 605.8L699.6 599.6L691.8 602.7L685.6 609.0L682.5 618.3L679.4 626.1L679.4 633.8L677.8 646.3L676.2 652.5L671.6 660.3L670.0 668.0L668.5 677.4L666.9 686.7L662.3 692.9L659.1 703.8L652.9 711.6L649.8 719.3L646.7 727.1L643.6 738.0L642.0 741.1L638.9 733.3L637.4 727.1L635.8 711.6L637.4 703.8L638.9 696.0L640.5 689.8L638.9 680.5L635.8 680.5L632.7 689.8L631.2 699.1L628.0 706.9L624.9 696.0L623.4 689.8L617.2 680.5L612.5 674.3L612.5 668.0L607.8 660.3L604.7 650.9L600.1 640.0L597.0 627.6L586.1 627.6L581.4 621.4L581.4 612.1L584.5 607.4L590.7 602.7L593.8 598.1L595.4 591.9L593.8 587.2L590.7 582.5L587.6 579.4L583.0 581.0L578.3 588.7L572.1 596.5L569.0 591.9L569.0 587.2L575.2 581.0L583.0 573.2L590.7 565.4L593.8 559.2L592.3 543.7L590.7 534.3Z" fill="#ea7457"/><path d="M665.4 570.1L666.9 560.8L670.0 554.5L674.7 553.0L679.4 557.6L684.0 562.3L685.6 565.4L684.0 574.8L682.5 581.0L680.9 585.6L676.2 589.5L671.6 587.2L666.9 581.0Z" fill="#d6556d"/><path d="M617.2 539.0L620.3 536.7L622.6 539.8L621.8 545.2L618.7 545.2Z" fill="#d6556d"/><path d="M626.5 657.2L628.8 654.8L630.4 658.7L628.0 661.0Z" fill="#d6556d"/><path d="M658.4 661.8L660.7 654.0L663.8 644.7L668.5 640.0L672.4 641.6L673.1 647.8L668.5 657.2L666.9 664.9L665.4 671.1L659.1 671.9Z" fill="#f89540"/><path d="M743.1 534.3L749.3 528.1L757.1 525.0L799.1 525.0L799.1 571.6L786.6 568.5L777.3 567.0L768.0 564.6L758.6 562.3L746.2 556.1L741.5 548.3L744.7 540.5Z" fill="#bf3984"/><path d="M727.6 577.9L732.2 570.1L736.9 568.5L739.2 571.6L738.4 577.9L733.8 584.1L729.1 585.6L726.8 582.5Z" fill="#bf3984"/><path d="M738.4 638.5L743.1 632.3L749.3 630.7L750.9 635.4L747.8 641.6L741.5 643.9Z" fill="#bf3984"/><path d="M687.9 616.7L690.2 612.1L693.3 612.8L694.1 616.7L690.2 620.6Z" fill="#bf3984"/><path d="M531.7 560.8L537.9 553.0L544.1 556.1L553.4 562.3L559.6 567.0L559.6 579.4L558.1 590.3L551.9 592.6L544.1 588.7L536.3 574.8L533.2 568.5Z" fill="#bf3984"/><path d="M558.1 549.1L561.2 546.8L564.3 548.3L565.1 551.4L561.2 553.0Z" fill="#bf3984"/><path d="M514.6 532.0L517.7 530.4L520.8 533.6L519.2 536.7L516.1 535.9Z" fill="#bf3984"/><path d="M573.6 624.5L576.7 622.2L579.9 624.5L578.3 627.6L575.2 627.6Z" fill="#bf3984"/><path d="M586.8 636.2L590.0 633.8L593.1 636.9L590.7 640.8L587.6 640.0Z" fill="#bf3984"/><path d="M593.8 650.9L597.0 649.4L599.3 653.3L597.0 654.8Z" fill="#bf3984"/><path d="M573.6 663.4L576.7 661.0L579.9 662.6L576.7 666.5Z" fill="#bf3984"/><path d="M602.4 671.1L606.3 668.0L609.4 671.1L606.3 675.8L603.2 675.0Z" fill="#bf3984"/><path d="M705.8 686.7L708.9 685.1L712.0 692.9L710.5 697.6L706.6 694.5Z" fill="#bf3984"/><path d="M558.1 691.4L561.2 685.1L565.9 682.8L572.1 683.6L578.3 689.8L583.0 691.4L593.8 687.5L603.2 685.1L609.4 683.6L615.6 688.2L620.3 692.9L624.9 702.2L624.9 711.6L621.8 719.3L617.2 722.5L620.3 733.3L626.5 739.6L631.2 745.8L632.7 759.8L587.6 759.8L586.1 742.7L589.2 727.1L590.7 716.2L592.3 708.5L586.1 703.8L578.3 703.8L575.2 710.0L567.4 711.6L559.6 706.9L558.1 699.1Z" fill="#bf3984"/><path d="M652.9 759.8L656.0 742.7L662.3 727.1L666.9 711.6L668.5 699.1L671.6 686.7L676.2 677.4L682.5 671.1L684.0 664.9L687.1 660.3L691.8 658.7L685.6 652.5L684.0 647.8L687.1 644.7L691.8 646.3L693.3 654.0L699.6 660.3L707.3 664.9L708.9 669.6L704.2 671.1L694.9 668.0L688.7 669.6L685.6 674.3L684.0 680.5L687.1 688.2L690.2 696.0L690.2 703.8L684.0 711.6L684.0 720.9L685.6 727.1L687.1 731.8L699.6 733.3L707.3 734.9L715.1 739.6L722.9 742.7L733.8 739.6L744.7 734.9L749.3 736.4L746.2 745.8L740.0 752.0L733.8 759.8Z" fill="#bf3984"/><path d="M666.9 742.7L670.0 740.3L673.1 745.8L671.6 750.4L667.7 748.9Z" fill="#d6556d"/><path d="M606.3 694.5L610.9 689.8L615.6 689.8L618.7 694.5L617.2 700.7L614.1 705.3L609.4 700.7Z" fill="#a11b9b"/><path d="M559.6 691.4L564.3 688.2L569.0 689.8L572.1 696.0L571.3 702.2L567.4 703.8L562.8 700.7Z" fill="#a11b9b"/><path d="M562.8 696.0L565.9 692.9L568.2 696.0L567.4 702.2L563.5 701.5Z" fill="#7e03a8"/><path d="M707.3 759.8L712.0 755.1L718.2 755.9L719.8 759.8Z" fill="#a11b9b"/><path d="M740.0 727.1L744.7 711.6L746.2 700.7L752.4 691.4L757.1 680.5L768.0 677.4L780.4 675.8L791.3 677.4L799.1 680.5L799.1 714.7L788.2 716.2L777.3 717.8L764.9 716.2L755.5 717.8L749.3 722.5L744.7 725.6Z" fill="#ea7457"/><path d="M763.3 703.0L768.0 699.1L772.6 700.7L771.1 705.3L764.9 705.3Z" fill="#d6556d"/><path d="M727.6 722.5L730.7 720.9L736.9 727.1L736.9 731.0L732.2 728.7Z" fill="#ea7457"/><path d="M542.5 699.1L546.4 697.6L550.3 705.3L555.0 713.1L559.6 717.8L558.1 719.3L551.9 716.2L547.2 710.0Z" fill="#ea7457"/><path d="M519.2 699.9L523.9 699.1L524.7 701.5L520.0 702.2Z" fill="#ea7457"/><path d="M528.5 707.7L530.9 706.9L531.7 709.2L529.3 710.0Z" fill="#ea7457"/></g><clipPath id="g13"><rect x="797" y="525" width="285" height="233"/></clipPath><g clip-path="url(#g13)"><rect x="797" y="525" width="285" height="233" fill="#d6556d"/><path d="M797.0 531.2L806.3 532.8L817.2 537.4L828.1 543.7L823.4 549.9L818.8 556.1L818.8 562.3L823.4 568.5L828.1 574.8L826.5 578.6L820.3 577.9L812.5 575.5L797.0 573.2Z" fill="#bf3984"/><path d="M831.2 525.0L863.9 525.0L864.6 534.3L863.9 545.2L862.3 551.4L857.6 551.4L849.9 543.7L842.1 534.3L835.9 529.7Z" fill="#bf3984"/><path d="M832.8 582.5L835.9 580.2L838.2 582.5L834.3 584.9Z" fill="#bf3984"/><path d="M926.0 525.0L982.0 525.0L983.6 529.7L989.8 532.8L999.1 531.2L1000.7 525.0L1005.3 525.0L1010.0 528.1L1014.7 531.2L1016.2 535.9L1011.6 540.5L1005.3 542.1L1003.8 548.3L999.1 556.1L996.0 560.8L1002.2 565.4L1005.3 570.1L1002.2 576.3L997.6 581.0L994.5 587.2L991.3 593.4L991.3 601.2L988.2 607.4L982.0 612.1L978.9 615.2L983.6 619.8L982.0 627.6L980.5 633.8L982.0 643.2L986.7 650.9L991.3 644.7L999.1 638.5L1010.0 635.4L1017.8 629.2L1025.5 624.5L1036.4 619.8L1038.0 612.1L1039.5 602.7L1042.6 598.1L1052.0 593.4L1067.5 591.9L1083.1 590.3L1083.1 759.8L899.6 759.8L899.6 696.0L902.7 680.5L904.3 672.7L907.4 664.9L915.2 663.4L918.3 658.7L921.4 654.8L930.7 653.3L935.4 651.7L937.7 654.8L935.4 661.8L940.0 669.6L946.3 678.9L950.9 675.8L955.6 671.1L960.2 672.7L963.4 669.6L963.4 661.8L961.8 649.4L958.7 646.3L952.5 640.0L947.8 635.4L947.8 630.7L952.5 627.6L958.7 626.1L963.4 622.9L965.7 616.7L961.8 612.1L960.2 605.8L960.2 596.5L957.1 590.3L952.5 585.6L947.8 577.9L944.7 573.2L936.9 570.1L930.7 567.0L924.5 560.8L919.8 558.4L915.2 559.2L908.9 560.0L904.3 554.5L899.6 548.3L898.1 543.7L904.3 546.8L908.9 549.9L915.2 551.4L924.5 546.8L929.2 540.5L930.7 535.9L927.6 529.7Z" fill="#ea7457"/><path d="M1069.1 539.0L1075.3 535.9L1083.1 535.9L1083.1 579.4L1078.4 576.3L1076.9 567.0L1072.2 560.8L1069.1 556.1L1068.3 548.3Z" fill="#ea7457"/><path d="M797.0 680.5L803.2 683.6L811.0 691.4L815.7 699.1L821.9 706.9L828.1 714.7L834.3 722.5L839.0 730.2L840.5 738.0L837.4 744.2L831.2 745.8L823.4 742.7L817.2 733.3L812.5 724.0L807.9 717.8L801.7 714.7L797.0 713.1Z" fill="#ea7457"/><path d="M851.4 708.5L856.1 705.3L863.9 704.6L867.0 713.1L873.2 710.0L877.8 711.6L881.0 717.8L881.0 727.1L884.1 727.1L890.3 720.9L893.4 711.6L896.5 699.1L899.6 696.0L899.6 759.8L854.5 759.8L848.3 745.8L846.8 736.4L849.9 728.7L853.0 725.6Z" fill="#ea7457"/><path d="M854.5 728.7L863.9 731.8L865.4 738.0L862.3 739.6L856.1 734.9Z" fill="#d6556d"/><path d="M868.5 731.8L871.6 729.4L874.0 736.4L871.6 748.9L867.7 747.3Z" fill="#d6556d"/></g><clipPath id="g14"><rect x="1082" y="525" width="285" height="233"/></clipPath><g clip-path="url(#g14)"><rect x="1082" y="525" width="285" height="233" fill="#ea7457"/><path d="M1082.0 528.1L1086.7 531.2L1092.9 534.3L1096.8 539.8L1095.2 544.4L1089.8 546.8L1085.1 542.1L1082.0 539.0Z" fill="#d6556d"/><path d="M1082.0 584.9L1084.3 587.2L1083.6 590.3L1082.0 590.3Z" fill="#d6556d"/><path d="M1131.0 526.6L1134.1 525.0L1134.9 528.1L1132.5 528.9Z" fill="#d6556d"/></g><clipPath id="g15"><rect x="229" y="757" width="285" height="233"/></clipPath><g clip-path="url(#g15)"><rect x="229" y="757" width="285" height="233" fill="#d6556d"/><path d="M281.9 757.0L300.5 757.0L299.0 766.3L291.2 775.7L285.0 783.4L283.4 791.2L281.9 800.5L280.3 806.8L275.6 806.8L269.4 803.6L263.2 799.0L261.6 792.8L263.2 786.5L271.0 777.2L278.8 769.4Z" fill="#bf3984"/><path d="M266.3 816.1L271.0 813.0L275.6 814.5L281.9 819.2L286.5 823.9L294.3 827.0L302.1 827.0L309.8 825.4L313.0 816.1L317.6 809.9L323.8 810.6L328.5 816.1L330.1 823.9L331.6 833.2L333.2 839.4L328.5 844.1L322.3 844.1L317.6 841.0L311.4 837.8L308.3 841.0L306.7 850.3L306.7 859.6L302.1 862.7L299.0 872.0L300.5 881.4L302.1 890.7L303.6 900.0L303.6 909.4L306.7 918.7L308.3 928.0L309.8 938.9L314.5 948.2L316.1 956.0L315.3 963.8L313.0 963.8L309.8 956.0L305.2 951.3L300.5 946.7L300.5 938.9L303.6 931.1L302.1 921.8L297.4 917.1L292.7 909.4L286.5 901.6L281.9 893.8L280.3 886.0L275.6 881.4L269.4 882.9L267.9 890.7L271.0 900.0L277.2 906.3L280.3 914.0L280.3 924.9L281.9 937.3L280.3 948.2L275.6 954.5L269.4 959.1L263.2 962.2L261.6 971.6L261.6 980.9L257.0 977.8L252.3 971.6L249.2 963.8L244.5 956.0L244.5 949.8L249.2 945.1L253.9 940.5L252.3 931.1L249.2 924.9L250.8 917.1L257.0 910.9L261.6 903.1L261.6 896.9L255.4 892.3L252.3 886.0L255.4 875.2L258.5 865.8L260.1 856.5L263.2 847.2L260.1 837.8L261.6 830.1L266.3 823.9Z" fill="#bf3984"/><path d="M275.6 850.3L281.9 844.1L288.1 841.0L292.7 844.1L295.9 856.5L294.3 865.8L291.2 875.2L288.1 881.4L281.9 884.5L277.2 879.8L275.6 865.8Z" fill="#d6556d"/><path d="M261.6 914.0L266.3 909.4L271.0 914.0L275.6 924.9L278.8 935.8L277.2 946.7L272.5 949.8L269.4 940.5L266.3 928.0Z" fill="#a11b9b"/><path d="M299.0 836.3L302.1 833.2L305.2 834.7L303.6 839.4L300.5 841.0Z" fill="#a11b9b"/><path d="M291.2 792.8L294.3 783.4L302.1 775.7L308.3 766.3L311.4 757.0L316.1 757.0L313.0 769.4L311.4 780.3L309.8 789.6L303.6 797.4L297.4 800.5L292.7 799.8Z" fill="#ea7457"/><path d="M313.0 771.0L316.1 772.5L322.3 774.1L323.8 780.3L319.2 786.5L314.5 788.1L311.4 781.9Z" fill="#ea7457"/><path d="M275.6 901.6L281.9 904.7L289.6 912.5L295.9 917.1L297.4 928.0L295.9 937.3L297.4 943.6L302.1 951.3L305.2 959.1L306.7 965.3L309.8 974.7L313.0 982.4L314.5 991.8L278.8 991.8L274.1 980.9L274.1 973.1L278.8 968.4L285.0 963.8L288.1 957.6L288.1 946.7L288.1 932.7L285.0 923.4L280.3 914.0Z" fill="#ea7457"/><path d="M229.0 962.2L233.7 963.8L241.4 971.6L247.7 979.3L252.3 987.1L253.9 991.8L229.0 991.8Z" fill="#ea7457"/><path d="M231.3 923.4L236.8 921.8L239.9 928.0L235.2 934.2L231.3 937.3Z" fill="#ea7457"/><path d="M334.7 977.8L340.9 973.1L347.2 968.4L351.8 965.3L353.4 971.6L353.4 982.4L348.7 985.5L340.9 984.0L336.3 980.9Z" fill="#ea7457"/><path d="M384.5 816.1L389.1 814.5L395.4 819.2L398.5 825.4L396.9 830.1L392.2 828.5L387.6 822.3Z" fill="#ea7457"/><path d="M417.1 785.0L421.8 777.2L424.9 780.3L425.7 785.8L420.2 791.2L417.9 789.6Z" fill="#ea7457"/><path d="M431.1 848.7L434.2 844.1L438.9 841.0L437.3 845.6L432.7 848.7Z" fill="#ea7457"/><path d="M401.6 802.1L404.7 800.5L407.0 802.9L403.9 804.4Z" fill="#ea7457"/><path d="M505.7 852.6L512.0 851.1L515.1 851.8L515.1 859.6L508.9 856.5Z" fill="#ea7457"/><path d="M320.7 763.2L323.1 761.7L323.8 764.8L321.5 764.8Z" fill="#ea7457"/><path d="M334.7 758.6L336.3 757.0L337.8 763.2L335.5 763.2Z" fill="#ea7457"/></g><clipPath id="g16"><rect x="513" y="757" width="285" height="233"/></clipPath><g clip-path="url(#g16)"><rect x="513" y="757" width="285" height="233" fill="#d6556d"/><path d="M606.3 757.0L732.2 757.0L729.1 766.3L729.1 780.3L727.6 792.8L719.8 794.3L707.3 794.3L704.2 799.0L708.9 803.6L719.8 808.3L724.4 806.8L738.4 809.9L747.8 814.5L749.3 822.3L747.8 833.2L740.0 837.8L736.9 845.6L735.3 856.5L732.2 862.7L730.7 872.0L722.9 875.2L718.2 879.8L716.7 884.5L724.4 886.0L736.9 889.2L744.7 895.4L747.8 901.6L747.8 906.3L738.4 910.9L736.9 917.1L750.9 923.4L761.8 926.5L768.0 934.2L768.0 945.1L761.8 951.3L755.5 952.9L746.2 949.8L740.0 946.7L733.8 940.5L735.3 951.3L743.1 959.1L744.7 966.9L747.8 974.7L746.2 991.8L555.0 991.8L556.5 977.8L559.6 974.7L564.3 977.8L565.9 991.8L573.6 991.8L575.2 977.8L581.4 973.1L590.7 970.0L600.1 963.8L606.3 956.0L609.4 948.2L612.5 938.9L610.9 931.1L606.3 926.5L600.1 928.0L593.8 935.8L587.6 940.5L581.4 938.9L579.9 931.1L579.9 921.8L578.3 914.0L581.4 910.9L589.2 912.5L590.7 904.7L593.8 896.9L597.0 887.6L598.5 881.4L601.6 872.0L600.1 862.7L603.2 853.4L607.8 842.5L612.5 837.8L618.7 831.6L615.6 828.5L607.8 827.0L604.7 822.3L604.7 814.5L606.3 809.9L600.1 809.9L593.8 814.5L587.6 822.3L584.5 816.1L581.4 813.0L576.7 809.9L578.3 803.6L579.9 797.4L584.5 789.6L592.3 786.5L600.1 785.0L601.6 775.7L609.4 769.4L610.9 766.3Z" fill="#bf3984"/><path d="M645.2 831.6L652.9 825.4L665.4 822.3L668.5 828.5L671.6 837.8L673.1 850.3L671.6 862.7L668.5 872.0L662.3 878.3L659.1 884.5L662.3 892.3L668.5 898.5L674.7 904.7L680.9 900.0L687.1 893.8L693.3 890.7L696.5 896.9L691.8 904.7L688.7 910.9L684.0 914.0L674.7 912.5L671.6 920.2L662.3 924.9L652.9 926.5L643.6 928.0L637.4 934.2L635.8 928.0L635.8 920.2L638.9 912.5L637.4 904.7L631.2 903.1L624.9 901.6L620.3 896.9L620.3 889.2L621.8 881.4L624.9 875.2L631.2 868.9L637.4 864.3L642.0 856.5L643.6 847.2Z" fill="#d6556d"/><path d="M598.5 903.1L603.2 901.6L609.4 904.7L615.6 906.3L617.2 912.5L614.1 917.1L607.8 917.1L603.2 914.0L598.5 909.4Z" fill="#d6556d"/><path d="M708.9 892.3L713.6 889.2L716.7 892.3L721.3 896.9L721.3 900.0L715.1 898.5L710.5 896.1Z" fill="#d6556d"/><path d="M694.9 935.8L699.6 932.7L708.9 931.1L718.2 932.7L722.9 937.3L721.3 943.6L719.8 951.3L721.3 962.2L724.4 974.7L727.6 991.8L713.6 991.8L712.0 980.9L713.6 968.4L712.0 959.1L710.5 949.8L707.3 943.6L699.6 940.5Z" fill="#d6556d"/><path d="M631.2 940.5L635.8 937.3L640.5 943.6L642.0 951.3L640.5 959.1L634.3 963.8L629.6 963.8L628.0 956.0L631.2 948.2Z" fill="#d6556d"/><path d="M684.0 952.9L685.6 949.8L687.9 954.5L685.6 956.8Z" fill="#d6556d"/><path d="M645.2 850.3L649.8 847.2L656.0 847.2L660.7 853.4L659.1 861.2L652.9 867.4L651.4 875.2L648.3 881.4L643.6 889.2L638.9 893.8L635.8 889.2L635.8 881.4L640.5 872.0L643.6 862.7Z" fill="#ea7457"/><path d="M760.2 760.1L768.0 757.0L799.1 757.0L799.1 771.0L789.7 769.4L777.3 767.9L769.5 766.3L761.8 764.8Z" fill="#ea7457"/><path d="M576.7 763.2L581.4 760.1L589.2 760.9L591.5 766.3L589.2 771.8L584.5 773.3L579.9 771.0Z" fill="#ea7457"/><path d="M559.6 775.7L565.9 773.3L572.1 774.1L574.4 777.2L570.5 781.9L565.9 782.7L561.2 780.3Z" fill="#ea7457"/><path d="M551.1 771.8L554.2 768.7L556.5 771.0L555.0 774.9L551.9 774.1Z" fill="#ea7457"/><path d="M551.1 780.3L554.2 779.5L555.8 781.9L552.6 782.7Z" fill="#ea7457"/><path d="M513.0 848.7L516.1 842.5L520.8 841.7L525.4 844.1L527.8 850.3L526.2 854.9L520.8 859.6L517.7 862.7L513.0 861.2Z" fill="#ea7457"/><path d="M537.1 813.0L541.0 811.4L542.5 816.1L539.4 819.2L537.6 819.2Z" fill="#ea7457"/><path d="M676.2 906.3L680.9 901.6L687.1 898.5L691.8 901.6L688.7 909.4L684.0 912.5L677.8 912.5Z" fill="#ea7457"/><path d="M623.4 775.7L628.0 774.1L635.8 780.3L642.0 788.1L645.9 795.9L646.7 803.6L643.6 803.6L637.4 795.9L631.2 788.1L624.9 781.9Z" fill="#a11b9b"/><path d="M666.1 769.4L671.6 766.3L677.8 769.4L684.0 772.5L688.7 777.2L691.0 785.0L685.6 785.0L680.9 788.1L676.2 795.9L673.1 802.1L671.6 795.9L668.5 783.4Z" fill="#a11b9b"/><path d="M701.9 761.7L707.3 758.6L716.7 758.6L719.8 763.2L718.2 771.0L719.8 775.7L712.0 777.2L704.2 774.1L701.9 767.9Z" fill="#a11b9b"/><path d="M612.5 924.9L618.7 921.8L623.4 920.2L624.9 912.5L631.2 909.4L634.3 912.5L635.8 920.2L632.7 926.5L626.5 929.6L618.7 929.6L614.1 928.0Z" fill="#a11b9b"/><path d="M607.8 977.8L610.9 966.9L615.6 957.6L621.8 946.7L623.4 951.3L620.3 962.2L618.7 971.6L615.6 977.8Z" fill="#a11b9b"/><path d="M701.1 912.5L705.8 907.8L713.6 909.4L719.8 914.0L722.9 920.2L719.8 924.9L713.6 924.9L705.8 921.8L701.9 918.7Z" fill="#a11b9b"/><path d="M677.8 926.5L680.9 924.1L685.6 925.7L684.8 928.8L679.4 929.6Z" fill="#a11b9b"/><path d="M656.0 764.8L657.6 764.0L659.1 767.9L656.8 768.7Z" fill="#a11b9b"/><path d="M646.7 893.8L649.8 892.3L651.4 895.4L648.3 896.9Z" fill="#a11b9b"/><path d="M649.8 906.3L654.5 903.9L657.6 906.3L656.0 910.9L651.4 910.9Z" fill="#a11b9b"/><path d="M705.8 763.2L708.9 760.1L712.8 761.7L712.0 766.3L708.1 767.1Z" fill="#7e03a8"/><path d="M705.8 914.0L709.7 911.7L715.1 914.0L716.7 918.7L713.6 921.0L708.1 919.5Z" fill="#7e03a8"/></g><clipPath id="g17"><rect x="797" y="757" width="285" height="233"/></clipPath><g clip-path="url(#g17)"><rect x="797" y="757" width="285" height="233" fill="#ea7457"/><path d="M797.0 770.2L815.7 770.2L823.4 775.7L829.6 783.4L834.3 789.6L835.9 797.4L835.9 811.4L834.3 816.1L835.1 827.0L833.5 837.8L834.3 850.3L836.6 862.7L839.0 875.2L842.1 886.0L846.8 892.3L849.9 900.0L849.9 906.3L845.2 910.9L842.1 915.6L842.1 921.8L835.9 920.2L831.2 918.7L830.4 921.8L837.4 923.4L840.5 926.5L843.6 931.1L842.1 935.8L835.9 938.9L834.3 943.6L837.4 948.2L835.9 959.1L834.3 968.4L835.9 977.8L837.4 991.8L797.0 991.8Z" fill="#d6556d"/><path d="M806.3 757.0L854.5 757.0L860.7 763.2L865.4 775.7L868.5 788.1L870.1 797.4L867.0 803.6L854.5 804.4L848.3 797.4L842.1 794.3L835.9 788.1L828.1 778.8L821.9 769.4L814.1 763.2Z" fill="#d6556d"/></g><clipPath id="g18"><rect x="229" y="990" width="143" height="117"/></clipPath><g clip-path="url(#g18)"><rect x="229" y="990" width="143" height="117" fill="#ea7457"/><path d="M229.0 990.0L245.4 990.0L245.4 993.1L240.7 992.3L236.8 994.7L235.2 997.8L233.7 1000.9L229.0 1002.5Z" fill="#d6556d"/><path d="M229.0 1017.3L233.7 1018.1L233.3 1022.8L229.0 1025.9Z" fill="#d6556d"/><path d="M256.3 990.0L278.9 990.0L283.6 996.2L285.2 1005.6L284.4 1013.4L285.2 1023.5L287.5 1032.1L291.4 1038.4L293.0 1043.1L293.8 1049.3L291.4 1050.9L287.5 1049.3L283.6 1044.6L279.7 1038.4L277.4 1031.3L274.2 1022.8L271.1 1015.7L268.8 1010.3L268.0 1005.6L265.7 1000.1L261.8 995.5Z" fill="#d6556d"/><path d="M252.8 1033.7L254.7 1032.1L257.9 1033.7L258.6 1036.0L257.1 1039.1L254.0 1039.9L252.8 1037.6Z" fill="#d6556d"/><path d="M275.0 1043.1L276.6 1042.3L277.8 1045.4L277.4 1050.1L275.8 1050.5L274.6 1047.0Z" fill="#d6556d"/><path d="M273.5 1070.4L275.8 1068.0L278.9 1071.9L283.6 1075.8L288.3 1079.7L293.8 1085.2L297.7 1091.4L300.8 1097.7L303.9 1103.1L305.5 1107.8L282.1 1107.8L281.3 1097.7L278.9 1091.4L276.6 1086.0L274.2 1079.7L273.5 1075.0Z" fill="#d6556d"/><path d="M257.9 1088.3L260.2 1087.1L262.5 1090.6L264.1 1094.5L266.4 1099.2L265.7 1101.6L262.5 1100.8L259.4 1097.7L257.9 1093.0Z" fill="#d6556d"/><path d="M313.3 990.0L372.5 990.0L372.5 1107.8L352.3 1107.8L347.6 1100.8L341.3 1093.8L338.2 1089.9L332.0 1088.3L328.9 1089.9L325.0 1089.1L321.1 1085.2L317.2 1081.3L315.6 1077.4L317.9 1074.3L322.6 1072.7L327.3 1072.7L332.0 1071.1L335.1 1066.5L339.8 1062.6L346.0 1061.0L348.4 1058.7L348.4 1054.8L344.5 1049.3L339.8 1046.2L335.1 1044.6L333.5 1041.5L335.1 1037.6L338.2 1034.5L339.8 1030.6L340.6 1025.9L338.2 1023.5L334.3 1021.2L332.8 1018.9L332.0 1013.4L332.0 1007.9L330.4 1004.8L326.5 1002.5L320.3 999.4L314.8 999.4L313.3 996.2Z" fill="#d6556d"/><path d="M336.3 993.1L338.2 990.8L339.8 991.6L340.2 996.2L338.2 997.8L336.7 996.2Z" fill="#ea7457"/><path d="M308.2 1021.2L313.3 1020.8L317.2 1022.0L317.9 1025.1L314.8 1026.7L311.7 1025.1Z" fill="#d6556d"/><path d="M326.1 1045.4L328.9 1045.0L332.8 1047.7L335.9 1051.6L335.1 1054.4L332.0 1054.0L328.9 1050.1Z" fill="#d6556d"/><path d="M313.3 1096.1L316.4 1094.9L319.5 1096.1L321.8 1100.0L322.6 1104.7L320.3 1106.2L316.4 1103.9L314.0 1100.8Z" fill="#d6556d"/><path d="M362.4 1046.2L366.3 1044.6L372.5 1043.8L372.5 1072.7L367.9 1077.4L364.7 1078.9L361.6 1076.6L356.9 1072.7L355.4 1068.0L358.5 1064.9L364.0 1061.8L365.5 1057.1L364.0 1051.6Z" fill="#bf3984"/><path d="M360.1 1088.3L361.6 1087.5L364.7 1091.4L363.2 1093.8L360.8 1093.0Z" fill="#bf3984"/></g><clipPath id="g19"><rect x="371" y="990" width="143" height="117"/></clipPath><g clip-path="url(#g19)"><rect x="371" y="990" width="143" height="117" fill="#d6556d"/><path d="M371.0 1043.1L375.7 1041.5L379.6 1039.9L383.9 1043.1L382.7 1047.0L379.6 1051.6L377.2 1056.3L376.9 1062.6L375.7 1065.7L372.6 1068.8L371.0 1069.6Z" fill="#bf3984"/><path d="M495.0 1026.7L497.4 1025.1L499.7 1025.9L499.7 1028.6L496.6 1030.6Z" fill="#bf3984"/><path d="M512.2 1016.5L514.5 1015.7L514.5 1021.2L512.6 1021.6Z" fill="#bf3984"/><path d="M418.6 1107.8L419.4 1099.2L422.5 1100.8L427.2 1103.9L431.1 1101.6L431.1 1093.8L429.5 1086.0L433.4 1085.2L438.1 1089.1L437.3 1099.2L441.2 1104.7L442.0 1107.8Z" fill="#bf3984"/></g><clipPath id="g20"><rect x="229" y="1106" width="143" height="117"/></clipPath><g clip-path="url(#g20)"><rect x="229" y="1106" width="143" height="117" fill="#d6556d"/><path d="M229.0 1106.0L282.1 1106.0L282.1 1115.4L278.9 1120.0L274.2 1123.9L270.3 1128.6L265.7 1134.1L261.8 1139.5L258.6 1143.4L254.7 1148.1L249.3 1149.7L244.6 1150.5L240.7 1154.4L236.8 1155.1L233.7 1152.0L229.0 1149.7Z" fill="#ea7457"/><path d="M304.7 1106.0L353.8 1106.0L353.0 1110.7L350.7 1112.6L344.5 1111.5L338.2 1109.9L332.8 1109.9L330.4 1113.0L334.3 1116.9L342.1 1116.9L350.7 1116.9L357.7 1118.5L361.6 1122.4L364.0 1126.3L366.3 1129.4L370.2 1133.3L372.5 1134.1L372.5 1216.8L367.9 1216.8L361.6 1213.7L356.2 1209.8L354.6 1207.4L357.7 1203.5L360.1 1201.2L357.7 1195.7L356.9 1191.8L357.7 1187.9L361.6 1184.0L366.3 1182.5L361.6 1176.2L356.9 1173.9L350.7 1170.0L344.5 1166.1L342.9 1162.2L341.3 1155.9L341.3 1149.7L339.8 1145.0L338.2 1138.8L336.7 1134.9L334.3 1131.7L332.0 1128.6L327.3 1126.3L321.8 1126.3L317.9 1123.9L315.6 1119.3L314.8 1114.6L313.3 1110.7L308.6 1108.3Z" fill="#ea7457"/><path d="M236.4 1176.2L238.4 1171.5L241.5 1169.2L244.6 1170.8L245.8 1173.9L243.8 1177.0L240.7 1177.8L237.6 1177.8Z" fill="#ea7457"/><path d="M283.2 1176.2L285.2 1171.5L288.3 1168.4L290.6 1170.8L290.6 1176.2L288.3 1180.1L286.0 1181.7L283.6 1180.9Z" fill="#ea7457"/><path d="M229.0 1176.2L232.5 1177.0L232.5 1180.9L229.0 1181.7Z" fill="#ea7457"/><path d="M283.2 1188.7L284.4 1187.1L285.2 1189.5L283.6 1189.9Z" fill="#ea7457"/><path d="M306.2 1179.3L308.6 1174.7L310.9 1168.4L311.7 1160.6L312.5 1154.4L316.4 1150.5L319.5 1145.8L322.6 1140.3L326.5 1134.1L329.6 1136.4L334.3 1145.0L335.1 1149.7L335.1 1159.1L329.6 1163.7L323.4 1168.4L317.2 1173.1L311.7 1177.0Z" fill="#bf3984"/><path d="M296.1 1184.0L300.0 1181.7L304.7 1181.3L303.1 1185.6L300.8 1188.7L298.4 1189.5L296.1 1187.9Z" fill="#bf3984"/><path d="M361.6 1223.8L366.3 1217.6L372.5 1214.4L372.5 1223.8Z" fill="#bf3984"/></g><clipPath id="g21"><rect x="371" y="1106" width="143" height="117"/></clipPath><g clip-path="url(#g21)"><rect x="371" y="1106" width="143" height="117" fill="#d6556d"/><path d="M417.8 1106.0L442.0 1106.0L444.3 1110.7L447.1 1113.8L447.5 1117.7L443.6 1121.6L438.9 1124.7L431.9 1127.8L428.0 1123.9L424.8 1118.5L420.1 1112.2Z" fill="#bf3984"/><path d="M380.0 1152.8L382.7 1152.0L388.2 1156.7L392.8 1162.2L396.0 1160.6L397.5 1156.7L395.2 1151.2L392.1 1145.8L390.1 1141.1L391.3 1138.0L394.4 1135.6L397.5 1138.8L397.5 1142.7L400.6 1148.1L405.3 1154.4L408.4 1159.8L414.7 1163.7L420.9 1168.4L425.6 1174.7L428.7 1180.1L430.3 1187.9L433.4 1192.6L438.1 1198.1L441.2 1202.7L445.1 1207.4L449.0 1212.9L452.1 1218.3L452.9 1223.8L395.2 1223.8L397.5 1215.2L400.6 1209.8L403.0 1207.4L403.0 1192.6L394.4 1187.9L392.8 1183.2L388.9 1177.8L384.3 1170.8L381.9 1163.7L380.4 1159.1Z" fill="#bf3984"/><path d="M505.2 1122.4L508.3 1121.2L514.5 1121.6L514.5 1133.3L511.4 1129.4Z" fill="#bf3984"/><path d="M486.5 1167.6L488.0 1162.2L491.1 1157.5L494.3 1155.9L498.9 1160.6L500.5 1166.9L502.1 1173.1L503.6 1178.6L506.7 1180.9L511.4 1176.2L513.0 1173.1L514.5 1172.3L514.5 1223.8L503.6 1223.8L502.8 1216.8L506.7 1212.1L508.3 1207.4L507.5 1199.6L505.2 1191.8L503.6 1185.6L500.5 1180.9L495.8 1177.0L490.4 1173.1Z" fill="#bf3984"/><path d="M506.0 1155.9L509.9 1152.0L514.5 1150.5L514.5 1166.1L509.9 1165.3L506.7 1162.2Z" fill="#bf3984"/><path d="M371.0 1214.4L373.3 1213.7L374.1 1218.3L373.3 1223.8L371.0 1223.8Z" fill="#bf3984"/><path d="M371.0 1156.7L373.3 1159.8L375.7 1165.3L378.8 1170.8L382.7 1175.4L384.3 1180.1L386.6 1186.4L388.9 1190.3L391.3 1192.6L392.8 1197.3L392.8 1207.4L392.1 1212.9L390.5 1216.0L382.7 1215.2L380.4 1212.9L377.2 1208.2L372.6 1207.4L371.0 1208.2Z" fill="#ea7457"/><path d="M402.2 1112.2L405.3 1109.1L406.9 1109.9L407.7 1116.1L407.7 1122.4L405.3 1122.4L403.8 1118.5Z" fill="#ea7457"/><path d="M417.8 1159.1L419.8 1157.1L422.1 1159.4L419.8 1161.0Z" fill="#ea7457"/><path d="M422.9 1163.0L424.1 1162.2L425.2 1164.1L424.1 1164.9Z" fill="#ea7457"/><path d="M435.0 1180.9L436.5 1178.9L439.7 1182.1L442.0 1184.8L439.7 1186.7L435.8 1186.7Z" fill="#ea7457"/></g><clipPath id="g22"><rect x="513" y="990" width="285" height="233"/></clipPath><g clip-path="url(#g22)"><rect x="513" y="990" width="285" height="233" fill="#d6556d"/><path d="M558.1 990.0L718.2 990.0L724.4 996.2L729.1 1002.4L729.1 1010.2L727.6 1016.4L733.8 1022.6L743.1 1024.2L747.8 1033.5L746.2 1039.8L740.0 1044.4L733.8 1052.2L729.1 1058.4L729.1 1064.6L724.4 1074.0L715.1 1081.7L712.0 1077.1L710.5 1072.4L704.2 1078.6L701.1 1086.4L696.5 1097.3L691.8 1108.2L687.1 1114.4L685.6 1123.7L688.7 1133.0L690.2 1142.4L693.3 1147.0L690.2 1154.8L685.6 1164.1L676.2 1165.7L662.3 1168.8L654.5 1173.5L649.8 1181.2L643.6 1192.1L637.4 1198.3L628.0 1204.6L621.8 1212.3L620.3 1224.8L559.6 1224.8L564.3 1215.4L572.1 1207.7L579.9 1196.8L586.1 1189.0L589.2 1179.7L598.5 1171.9L606.3 1162.6L621.8 1154.8L628.0 1151.7L631.2 1143.9L640.5 1142.4L646.7 1137.7L651.4 1134.6L656.0 1136.1L657.6 1143.9L656.0 1153.2L665.4 1151.7L670.0 1150.1L671.6 1142.4L670.0 1137.7L660.7 1133.0L659.1 1128.4L662.3 1123.7L666.1 1117.5L663.8 1111.3L657.6 1109.7L652.9 1103.5L649.8 1095.7L642.0 1095.7L626.5 1094.2L621.8 1086.4L618.7 1077.1L617.2 1067.7L621.8 1061.5L631.2 1058.4L629.6 1053.7L621.8 1049.1L615.6 1041.3L609.4 1038.2L601.6 1039.8L595.4 1049.1L587.6 1056.9L584.5 1064.6L587.6 1075.5L598.5 1081.7L601.6 1089.5L604.0 1101.9L600.1 1111.3L593.8 1112.8L587.6 1109.7L581.4 1109.7L570.5 1109.7L569.0 1114.4L576.7 1119.0L579.9 1126.8L583.0 1139.3L578.3 1143.9L572.1 1147.0L565.9 1154.8L559.6 1161.0L555.0 1165.7L555.0 1179.7L548.8 1182.8L542.5 1187.5L541.0 1193.7L530.1 1196.8L523.9 1201.4L525.4 1206.1L533.2 1210.8L541.0 1217.0L544.1 1224.8L513.0 1224.8L513.0 1145.5L516.1 1143.9L513.0 1139.3L513.0 1122.2L522.3 1119.0L525.4 1111.3L523.9 1101.9L519.2 1091.1L517.7 1080.2L516.9 1060.0L519.2 1052.2L527.0 1049.1L533.2 1041.3L539.4 1041.3L545.6 1046.0L553.4 1039.8L558.1 1033.5L561.2 1027.3L564.3 1021.1L565.9 1013.3L562.8 1007.1L559.6 999.3Z" fill="#bf3984"/><path d="M651.4 1092.6L654.5 1083.3L655.3 1075.5L660.7 1074.7L661.5 1083.3L659.1 1091.1L654.5 1093.4Z" fill="#d6556d"/><path d="M669.2 1092.6L673.1 1091.1L674.7 1095.7L677.8 1097.3L682.5 1098.8L682.5 1103.5L677.8 1104.3L674.7 1098.8Z" fill="#d6556d"/><path d="M711.2 1125.3L716.7 1119.0L724.4 1115.9L732.2 1113.6L733.0 1122.2L732.2 1133.0L726.0 1133.8L718.2 1131.5L711.2 1133.0Z" fill="#bf3984"/><path d="M754.0 994.7L758.6 990.0L764.9 990.0L768.0 996.2L774.2 1004.0L774.2 1010.2L771.1 1016.4L766.4 1018.8L761.8 1013.3L757.1 1007.1L754.8 999.3Z" fill="#bf3984"/><path d="M740.0 991.6L743.1 990.0L746.2 990.0L745.4 993.1L741.5 993.9Z" fill="#bf3984"/><path d="M663.8 1224.8L666.9 1213.9L671.6 1209.2L677.8 1206.9L680.9 1210.8L679.4 1224.8Z" fill="#bf3984"/><path d="M740.0 1213.9L743.1 1210.8L748.5 1210.8L748.5 1217.8L741.5 1217.8Z" fill="#bf3984"/><path d="M534.8 1150.1L539.4 1148.6L544.1 1150.9L548.8 1150.1L554.2 1150.9L555.0 1153.2L550.3 1154.0L544.1 1152.5L537.9 1153.2Z" fill="#d6556d"/><path d="M567.4 990.0L573.6 990.0L572.9 993.9L569.7 994.7Z" fill="#d6556d"/><path d="M593.8 1206.1L601.6 1199.9L603.2 1192.1L609.4 1185.9L618.7 1184.3L624.9 1182.8L628.0 1176.6L629.6 1168.8L635.8 1162.6L642.0 1159.5L645.2 1164.1L646.7 1171.9L643.6 1179.7L638.9 1187.5L632.7 1195.2L629.6 1190.6L623.4 1189.0L618.7 1196.8L612.5 1203.0L606.3 1206.1L598.5 1207.7Z" fill="#a11b9b"/><path d="M576.7 1224.8L581.4 1217.0L586.1 1213.1L590.7 1218.5L591.5 1224.8Z" fill="#a11b9b"/><path d="M668.5 1159.5L671.6 1157.1L673.1 1160.2L670.0 1161.0Z" fill="#a11b9b"/><path d="M787.4 1176.6L792.9 1173.5L799.1 1171.9L799.1 1181.2L792.9 1179.7Z" fill="#ea7457"/><path d="M794.4 1016.4L799.1 1013.3L799.1 1022.6Z" fill="#ea7457"/><path d="M628.0 1154.8L631.2 1152.5L633.5 1156.4L630.4 1157.1Z" fill="#ea7457"/></g><clipPath id="g23"><rect x="797" y="990" width="285" height="233"/></clipPath><g clip-path="url(#g23)"><rect x="797" y="990" width="285" height="233" fill="#ea7457"/><path d="M797.0 990.0L837.4 990.0L837.4 999.3L831.2 1007.1L825.0 1019.5L823.4 1032.0L828.1 1039.8L837.4 1044.4L849.9 1046.0L856.1 1050.6L865.4 1055.3L868.5 1067.7L873.2 1077.1L884.1 1083.3L893.4 1089.5L901.2 1097.3L904.3 1106.6L910.5 1105.0L921.4 1103.5L927.6 1108.2L932.3 1119.0L935.4 1126.8L940.0 1128.4L946.3 1126.8L952.5 1126.8L955.6 1133.0L959.5 1139.3L957.1 1145.5L952.5 1150.1L950.9 1154.8L954.0 1161.0L950.9 1168.8L950.9 1176.6L946.3 1184.3L944.7 1190.6L950.9 1196.8L954.0 1203.0L950.9 1210.8L947.8 1220.1L943.1 1224.8L797.0 1224.8Z" fill="#d6556d"/><path d="M801.7 1145.5L801.7 1134.6L806.3 1129.9L808.7 1122.2L809.4 1112.8L815.7 1111.3L823.4 1114.4L826.5 1122.2L825.0 1128.4L818.8 1133.0L814.1 1139.3L812.5 1145.5L811.0 1150.1L804.8 1150.1Z" fill="#ea7457"/><path d="M797.0 1168.8L803.2 1164.1L809.4 1161.0L812.5 1157.9L817.2 1161.0L820.3 1168.8L817.2 1176.6L814.1 1182.8L806.3 1182.8L797.0 1181.2Z" fill="#ea7457"/><path d="M807.1 1153.2L811.0 1151.7L812.5 1156.4L809.4 1159.5L807.1 1157.9Z" fill="#ea7457"/><path d="M828.1 1159.5L834.3 1154.8L840.5 1154.8L842.1 1161.0L837.4 1168.8L832.8 1171.9L828.1 1168.8Z" fill="#ea7457"/><path d="M873.2 1028.9L874.7 1021.1L877.8 1014.9L880.2 1012.5L881.0 1021.1L880.2 1035.1L876.3 1035.1Z" fill="#d6556d"/><path d="M997.6 1064.6L999.1 1050.6L1005.3 1041.3L1011.6 1038.2L1019.3 1044.4L1030.2 1053.7L1038.0 1061.5L1044.2 1066.2L1042.6 1055.3L1039.5 1042.9L1033.3 1030.4L1027.1 1019.5L1017.8 1010.2L1011.6 999.3L1016.2 1000.1L1025.5 1007.1L1031.8 1016.4L1036.4 1011.8L1042.6 1010.2L1048.9 1016.4L1055.1 1027.3L1052.0 1039.8L1061.3 1047.5L1067.5 1055.3L1070.6 1064.6L1076.9 1069.3L1083.1 1069.3L1083.1 1189.0L1078.4 1184.3L1070.6 1185.9L1062.9 1181.2L1059.7 1173.5L1053.5 1164.1L1045.8 1156.4L1036.4 1150.1L1027.1 1145.5L1019.3 1142.4L1011.6 1133.0L1005.3 1126.8L1000.7 1120.6L999.1 1098.8L999.1 1080.2Z" fill="#d6556d"/></g><clipPath id="g24"><rect x="1082" y="990" width="285" height="233"/></clipPath><g clip-path="url(#g24)"><rect x="1082" y="990" width="285" height="233" fill="#ea7457"/><path d="M1082.0 1038.2L1088.2 1036.6L1094.4 1039.8L1103.8 1044.4L1110.0 1049.1L1114.6 1056.9L1128.6 1064.6L1133.3 1072.4L1141.1 1077.8L1147.3 1077.1L1149.6 1067.7L1155.1 1072.4L1158.2 1078.6L1159.0 1086.4L1162.8 1095.7L1170.6 1103.5L1179.9 1106.6L1183.1 1112.8L1189.3 1117.5L1197.0 1119.0L1200.2 1126.8L1204.8 1129.9L1211.0 1125.3L1217.3 1125.3L1218.0 1129.9L1209.5 1137.7L1211.0 1143.9L1218.8 1150.1L1223.5 1156.4L1228.1 1165.7L1237.5 1173.5L1246.8 1179.7L1256.1 1176.6L1267.0 1171.9L1274.8 1173.5L1281.0 1179.7L1279.5 1184.3L1274.8 1189.0L1268.6 1193.7L1265.5 1198.3L1268.6 1201.4L1273.2 1195.2L1288.8 1195.2L1288.8 1207.7L1290.3 1215.4L1295.0 1213.9L1296.6 1204.6L1301.2 1198.3L1296.6 1192.1L1302.8 1189.0L1307.4 1190.6L1304.3 1196.8L1307.4 1200.7L1316.8 1201.4L1324.5 1206.1L1329.2 1213.9L1324.5 1220.1L1327.6 1224.8L1138.0 1224.8L1133.3 1218.5L1122.4 1217.0L1113.1 1218.5L1105.3 1221.7L1100.7 1217.0L1094.4 1206.1L1089.8 1195.2L1082.0 1192.1Z" fill="#d6556d"/><path d="M1082.0 1049.1L1096.0 1049.1L1102.2 1053.7L1103.0 1061.5L1100.7 1066.2L1091.3 1067.7L1082.0 1070.1Z" fill="#ea7457"/><path d="M1110.0 1092.6L1120.9 1091.1L1124.0 1091.8L1128.6 1087.9L1134.9 1089.5L1138.0 1092.6L1136.4 1097.3L1133.3 1100.4L1131.0 1105.0L1128.6 1111.3L1127.1 1108.2L1120.9 1103.5L1113.1 1101.9L1110.0 1097.3Z" fill="#ea7457"/><path d="M1130.2 1058.4L1134.9 1053.7L1141.1 1049.9L1145.7 1047.5L1149.6 1050.6L1141.1 1055.3L1133.3 1060.7Z" fill="#d6556d"/><path d="M1179.2 1091.1L1184.6 1087.9L1192.4 1091.8L1189.3 1097.3L1183.1 1102.7L1179.2 1101.9Z" fill="#d6556d"/><path d="M1245.2 1017.2L1251.5 1007.1L1253.0 1005.5L1260.8 1013.3L1267.0 1019.5L1271.7 1030.4L1276.3 1041.3L1284.1 1047.5L1291.9 1055.3L1299.7 1063.1L1305.9 1075.5L1312.1 1081.7L1321.4 1086.4L1330.8 1092.6L1340.1 1095.7L1346.3 1101.9L1354.1 1109.7L1360.3 1119.0L1363.4 1129.9L1368.1 1133.0L1368.1 1187.5L1360.3 1181.2L1352.5 1176.6L1349.4 1167.2L1346.3 1154.8L1338.5 1147.0L1332.3 1140.8L1330.8 1133.0L1327.6 1126.8L1321.4 1120.6L1315.2 1112.8L1310.5 1106.6L1304.3 1100.4L1298.1 1094.2L1290.3 1087.9L1282.6 1081.7L1274.8 1075.5L1271.7 1067.7L1267.0 1063.1L1260.8 1060.0L1257.7 1052.2L1254.6 1044.4L1253.0 1036.6L1252.2 1027.3L1248.4 1022.6Z" fill="#d6556d"/><path d="M1326.9 1170.3L1329.2 1168.0L1332.3 1168.8L1329.2 1171.9Z" fill="#d6556d"/><path d="M1333.9 1224.8L1338.5 1218.5L1344.7 1220.1L1346.3 1224.8Z" fill="#d6556d"/></g><path d="M515.1 316.9L508.9 315.3L502.6 316.9L496.4 316.9L493.3 320.0L494.1 327.8L495.6 329.3L493.3 333.2L490.2 336.3L486.3 341.8L484.8 345.6L487.1 349.5L493.3 351.9L499.5 353.4L502.6 355.0L508.9 354.2L515.1 357.3M229.0 524.9L232.7 528.6L236.4 530.0L240.1 529.5L243.8 532.8L245.7 534.2L248.5 531.8L251.3 529.1L255.0 527.2L258.7 525.3L261.0 521.6L264.3 519.8L266.1 521.6L267.0 523.5L271.7 523.5L276.3 522.6L280.9 525.3L284.7 528.1L287.4 530.9L290.2 528.1L293.9 526.3L297.6 521.6L300.4 516.1L301.4 513.3L306.0 514.2L310.6 516.1L314.3 518.4L318.1 518.8L318.1 527.2L319.9 530.4L323.6 531.8L325.5 533.7L325.5 536.5L329.2 538.3L331.0 540.0M542.3 292.0L542.6 309.9L538.7 314.6L534.1 317.7L527.8 318.5L523.9 321.3L520.8 320.5L517.7 317.0L513.0 317.0M513.0 355.2L517.7 356.8L521.6 358.3L525.5 362.2L528.6 363.4L531.7 365.3L535.6 369.2L538.0 373.1L538.7 377.8L542.6 382.5L546.5 384.1L547.3 389.5L551.2 393.4L556.7 395.0L562.1 397.3L564.5 401.2L565.3 405.1L569.2 405.9L574.6 409.8M572.3 408.0L575.4 411.1L577.8 418.1L580.9 426.7L581.7 431.4L584.8 436.1L587.1 440.8L587.9 445.4L587.1 448.6L587.9 452.5L591.0 457.1L593.4 461.1L594.1 464.2L597.3 467.3L601.9 470.4L603.5 472.8L601.9 474.3L604.3 477.4L607.4 478.2L611.3 474.3L614.4 473.5L619.9 476.7L623.8 476.7L630.8 479.8L630.0 482.9L631.6 489.1L629.2 492.3L628.5 503.2L630.0 507.9L633.9 512.5L637.0 515.7L638.6 520.3L640.9 524.2L657.3 524.2M547.3 525.8L557.5 516.1L567.6 510.2L580.1 504.7L591.0 500.1L601.9 497.7L602.7 499.3L606.6 496.9L610.5 494.6L612.1 496.9L610.5 498.5L609.7 500.1L614.4 500.8L619.1 501.6L618.3 505.5L616.8 507.9L620.7 515.7L625.3 518.0L626.1 514.1L628.5 512.5L630.0 515.7L634.7 516.1L637.0 516.4M1070.8 294.0L1076.3 295.1L1083.3 297.6M1001.4 525.8L1003.8 521.1L1011.6 514.1L1021.7 508.6L1032.6 504.0L1042.8 501.6L1051.3 499.3L1055.2 498.5L1083.3 500.4M1082.0 295.9L1106.9 306.0L1138.0 316.9L1169.1 327.8L1212.6 341.0L1263.9 341.0M1295.0 294.3L1279.5 318.4L1268.6 335.5L1263.9 341.0L1254.6 349.5L1237.5 366.6L1218.8 385.3L1201.7 400.8L1184.6 417.9L1169.1 433.5L1153.5 449.0L1138.0 466.1L1120.9 486.3L1105.3 501.1L1082.0 499.6M1366.5 337.9L1361.9 341.8L1360.3 346.4L1359.5 351.1L1360.3 354.2L1357.2 358.9L1355.6 363.5L1349.4 371.3L1343.2 380.6L1337.0 389.9L1330.8 400.8L1327.6 408.6L1323.0 417.9L1320.7 424.2L1322.2 428.8L1320.7 433.5L1315.2 442.8L1310.5 450.6L1304.3 459.9L1299.7 467.7L1295.0 473.9L1290.3 484.8L1284.1 491.0L1277.9 498.8L1273.2 506.6L1268.6 515.9L1263.1 526.8M331.0 539.9L337.8 548.3L340.9 550.7L350.3 553.0L356.5 556.1L358.0 568.5L364.3 567.0L368.9 566.2L372.0 571.6L375.1 574.8L378.3 565.4L384.5 562.3L390.7 559.2L396.9 560.8L407.8 566.2L415.6 563.9L421.8 558.4L429.6 568.5L435.8 570.1L442.0 573.2L443.6 569.3L452.9 562.3L471.5 560.0L484.0 554.5L493.3 560.8L507.3 562.3L515.1 559.2M373.6 574.8L376.7 577.9L372.0 587.2L367.4 596.5L368.9 602.7L373.6 605.8L372.0 612.1L368.9 619.8L366.6 627.6L372.0 630.7L378.3 632.3L382.9 635.4L389.1 636.9L392.2 640.0L396.1 644.7L392.2 649.4L384.5 658.7L376.7 664.9L365.8 674.3L356.5 686.7L350.3 692.9L344.0 696.0L340.9 700.7L339.4 705.3L331.6 710.0L326.9 713.1L325.4 719.3L325.4 730.2L322.3 734.9L319.2 741.1L318.4 747.3L314.5 750.4L313.0 759.8M513.0 560.8L536.3 536.7L548.8 525.0M536.3 536.7L539.4 540.5L541.0 548.3L544.1 554.5L547.2 557.6L550.3 562.3L558.1 565.4L560.4 570.1L558.1 574.8L558.1 582.5L559.6 590.3L564.3 593.4L567.4 599.6L570.5 607.4L575.2 607.4L578.3 615.2L581.4 621.4L584.5 626.1L582.2 630.7L583.0 636.9L586.1 644.7L589.2 657.2L588.4 669.6L584.5 674.3L581.4 678.9L579.9 685.1L578.3 692.9L572.1 693.7L565.9 697.6L561.2 700.7L559.6 710.0L553.4 716.2L547.2 724.0L544.1 725.6L542.5 733.3L541.0 739.6L536.3 744.2L531.7 750.4L532.4 759.8M640.5 525.0L684.0 525.8L696.5 531.2L715.1 543.7L730.7 554.5L746.2 565.4L750.9 568.5L769.5 568.2L772.6 566.7L780.4 569.3L792.9 574.0L799.1 573.5M797.0 573.2L806.3 574.8L814.1 575.5L821.9 576.3L825.0 579.4L828.1 573.2L837.4 565.4L840.5 556.1L856.1 548.3L870.1 542.1L888.7 534.3L896.5 540.5L905.8 549.9L912.0 551.7L932.3 549.1L944.7 551.4L949.4 545.2L958.7 538.2L968.0 537.4L994.5 533.6L1000.7 528.9L1002.2 525.0M946.3 549.9L933.8 570.1L919.8 590.3L899.6 609.7L899.6 759.8M997.6 759.8L1017.8 738.0L1030.2 724.0L1042.6 713.1L1053.5 703.8L1064.4 692.9L1072.2 686.7L1083.1 678.1M1263.1 525.0L1253.0 535.9L1243.7 545.2L1239.0 552.2L1228.1 563.9L1215.7 576.3L1206.4 587.2L1197.0 595.7L1193.9 599.6L1186.2 605.8L1178.4 613.6L1175.3 616.7L1167.5 624.5L1162.8 629.9L1152.0 636.2L1141.1 642.4L1122.4 653.3L1109.2 658.7L1097.5 666.5L1082.0 678.9M313.7 757.0L311.4 769.4L309.8 783.4L308.3 795.9L306.7 803.6L306.0 813.0L306.7 825.4L307.5 828.5M307.5 828.5L300.5 831.6L294.3 836.3L288.1 844.1L284.2 851.8L284.2 862.7L281.9 870.5L275.6 875.2L271.0 879.8L269.4 886.0L271.0 892.3L272.5 896.9L277.2 897.7L278.8 893.8L285.0 892.3L291.2 893.8L294.3 898.5L295.9 903.1L303.6 902.4L311.4 901.6L319.2 900.0L323.8 893.8L325.4 881.4L326.9 877.5L333.2 879.8L336.3 882.9L340.9 878.3L347.2 877.5L351.8 876.7L356.5 881.4L362.7 880.6L370.5 879.8L373.6 876.7L374.4 865.8L372.8 858.1L372.0 850.3L372.0 841.0L368.9 834.7L365.8 828.5L359.6 825.4L356.5 819.2L353.4 813.0L351.8 812.2L347.2 812.2L342.5 819.2L337.8 823.9L331.6 828.5L325.4 833.2L322.3 830.1L320.7 825.4L316.1 827.0L311.4 827.7L307.5 828.5M351.8 812.2L361.2 811.4L365.8 808.3L372.0 807.5L515.1 808.3M356.5 881.4L353.4 890.7L351.8 895.4L354.9 896.9L351.8 903.1L353.4 907.8L358.0 909.4L365.8 910.9L372.0 912.5L370.5 918.7L372.0 923.4L370.5 928.0L365.8 929.6L362.7 932.7L361.2 935.8L353.4 940.5L351.8 943.6L348.7 952.9L344.0 956.0L340.9 963.8L337.8 968.4L331.6 974.7L328.5 977.8L322.3 982.4M298.3 988.1L314.3 989.0L316.2 987.5L317.7 983.7L319.6 982.9L322.3 982.4M277.2 897.7L276.4 903.1L280.3 907.8L286.5 912.5L289.6 918.7L288.1 928.0L288.1 943.6L288.1 960.7L292.7 966.9L295.9 974.7L297.4 982.4L298.2 991.8M532.4 757.0L534.8 763.2L533.2 780.3L531.7 791.2L532.4 808.3M513.0 809.1L536.3 809.1L541.0 811.4L606.3 848.7L668.5 882.9L727.6 915.6L729.1 923.4L729.9 928.0L726.0 931.1L723.7 934.2L725.2 938.9L730.7 940.5L733.8 946.7L743.1 954.5L792.9 991.8M899.6 757.0L899.6 802.1L915.2 820.7L929.2 839.4L929.9 844.1M999.1 757.0L991.3 763.2L983.6 771.0L978.9 777.2L975.8 781.9L968.0 789.6L960.2 799.0L955.6 803.6L950.9 809.9L946.3 817.6L943.1 822.3L933.8 837.8L929.2 843.3L921.4 851.8L915.2 858.1L908.9 859.6L905.8 862.7L908.9 865.8L904.3 868.9L899.6 865.8L898.1 859.6L894.9 859.6L896.5 865.8L898.1 873.6L893.4 875.2L890.3 876.7L888.7 881.4L884.1 887.6L877.8 888.4L870.1 889.2L862.3 893.8L859.2 898.5L857.6 903.1L858.4 910.9L860.7 912.5L857.6 917.1L856.1 924.9L853.0 928.0L848.3 929.6L845.2 937.3L842.1 945.1L840.5 952.9L837.4 959.1L834.3 963.8L831.2 970.0L828.1 976.2L825.0 984.0L822.7 991.8M899.6 865.8L901.2 856.5L902.7 864.3L905.8 865.8L904.3 868.9M298.8 990.0L297.7 994.7L294.5 1002.5L293.8 1009.5L294.5 1016.5L296.9 1021.2L300.8 1028.2L303.9 1036.8L307.0 1044.6L309.4 1052.4L308.6 1058.7L303.9 1064.9L301.6 1069.6L302.3 1074.3L303.9 1079.7L304.7 1084.4L307.8 1089.1L310.1 1091.4L312.5 1097.7L314.8 1100.8L317.9 1104.3L319.5 1106.1M319.5 1106.0L322.6 1107.6L328.9 1110.7L335.1 1116.1L341.3 1123.9L345.2 1129.4L348.4 1135.6L349.9 1141.1L350.7 1146.6L352.3 1152.0L356.9 1159.1L361.6 1166.9L364.7 1173.1L367.1 1180.1L368.6 1186.4L371.0 1188.7M367.1 1182.8L271.1 1197.3L271.9 1200.4L273.5 1203.5L273.1 1208.2L271.1 1212.1L267.2 1216.8L263.3 1222.2M371.0 1188.7L374.1 1194.2L378.8 1199.6L385.0 1205.1L388.9 1203.5L391.3 1202.7L394.4 1205.1L399.1 1203.5L402.2 1205.9L407.7 1208.2L410.0 1210.5L410.0 1215.2L413.1 1218.3L417.0 1220.7L420.9 1218.7L425.6 1219.9L430.3 1221.5L431.1 1223.8M799.1 1038.2L796.0 1039.8L792.9 1049.1L789.7 1055.3L786.6 1063.1L785.9 1070.8L788.2 1077.1L789.7 1083.3L791.3 1089.5L794.4 1092.6L799.1 1093.4M822.7 990.0L820.3 993.1L815.7 996.2L809.4 997.8L807.9 1004.0L806.3 1010.2L803.2 1018.0L801.7 1025.8L798.6 1035.1L797.0 1042.9M797.0 1091.1L803.2 1095.7L809.4 1103.5L812.5 1109.7L818.8 1112.8L823.4 1115.9L826.5 1122.2L825.8 1128.4L820.3 1131.5L815.7 1136.1L814.1 1142.4L812.5 1150.1L811.8 1157.9L815.7 1161.0L820.3 1164.1L821.1 1170.3L818.8 1176.6L814.1 1184.3L811.8 1189.0L812.5 1198.3L815.7 1207.7L818.8 1213.9L821.9 1218.5L825.0 1221.7M832.8 1011.8L842.1 1011.8L842.9 1021.1L840.5 1028.9L837.4 1035.1L834.3 1039.8L829.6 1041.3L827.3 1038.2L832.8 1035.1L831.2 1027.3L832.8 1019.5L832.8 1011.8M807.9 1056.9L812.5 1055.3L814.1 1061.5L817.2 1069.3L821.9 1077.1L825.0 1081.7L826.5 1089.5L823.4 1092.6L818.8 1089.5L815.7 1086.4L812.5 1081.7L807.9 1078.6L806.3 1070.8L807.1 1063.1L807.9 1056.9M828.1 1170.3L835.9 1164.1L842.1 1157.9L844.4 1154.8L843.6 1161.0L840.5 1167.2L837.4 1171.9L834.3 1171.9L829.6 1171.9L828.1 1170.3M834.3 1175.0L837.4 1173.5L838.2 1176.6L835.1 1178.1L834.3 1175.0M797.0 993.1L807.9 1000.1" stroke="#000" stroke-width="2.1" fill="none" stroke-linejoin="round" stroke-linecap="round" shape-rendering="geometricPrecision"/><path d="M328.8 292.5V1222.8M484.8 292.5V1222.8M640.8 292.5V1222.8M796.8 292.5V1222.8M952.8 292.5V1222.8M1108.8 292.5V1222.8M1264.8 292.5V1222.8" stroke="#b0b0b0" stroke-opacity="0.27" stroke-width="2" fill="none" shape-rendering="geometricPrecision"/><path d="M229.7 366.7H1366.5M229.7 496.7H1366.5M229.7 626.7H1366.5M229.7 756.7H1366.5M229.7 886.7H1366.5M229.7 1016.7H1366.5M229.7 1146.7H1366.5" stroke="#b0b0b0" stroke-opacity="0.27" stroke-width="2" fill="none" shape-rendering="geometricPrecision"/></g><rect x="229.7" y="292.5" width="1136.8" height="930.3" fill="none" stroke="#000" stroke-width="3.2"/><g style="font-family:'DejaVu Sans Mono','Liberation Mono',monospace;font-size:50px" fill="#000" text-anchor="middle"><text x="798" y="210.6">Temp(°C) @ 20250808_06</text><text x="813" y="266.9">Simulation Time: 20250806_12</text></g><g style="font-family:'DejaVu Sans Mono','Liberation Mono',monospace;font-size:41.67px;letter-spacing:-0.5px" fill="#000"><text x="207" y="378.9" text-anchor="end">7.5°N</text><text x="207" y="508.9" text-anchor="end">5°N</text><text x="207" y="638.9" text-anchor="end">2.5°N</text><text x="207" y="768.9" text-anchor="end">0°</text><text x="207" y="898.9" text-anchor="end">2.5°S</text><text x="207" y="1028.9" text-anchor="end">5°S</text><text x="207" y="1158.9" text-anchor="end">7.5°S</text><text x="328.8" y="1277" text-anchor="middle">30°E</text><text x="484.8" y="1277" text-anchor="middle">33°E</text><text x="640.8" y="1277" text-anchor="middle">36°E</text><text x="796.8" y="1277" text-anchor="middle">39°E</text><text x="952.8" y="1277" text-anchor="middle">42°E</text><text x="1108.8" y="1277" text-anchor="middle">45°E</text><text x="1264.8" y="1277" text-anchor="middle">48°E</text></g><rect x="1437.0" y="1177.70" width="57.70" height="105.60" fill="#2a0593"/><rect x="1437.0" y="1072.70" width="57.70" height="105.60" fill="#5601a4"/><rect x="1437.0" y="967.70" width="57.70" height="105.60" fill="#7e03a8"/><rect x="1437.0" y="862.70" width="57.70" height="105.60" fill="#a11b9b"/><rect x="1437.0" y="757.70" width="57.70" height="105.60" fill="#bf3984"/><rect x="1437.0" y="652.70" width="57.70" height="105.60" fill="#d6556d"/><rect x="1437.0" y="547.70" width="57.70" height="105.60" fill="#ea7457"/><rect x="1437.0" y="442.70" width="57.70" height="105.60" fill="#f89540"/><rect x="1437.0" y="337.70" width="57.70" height="105.60" fill="#feba2c"/><rect x="1437.0" y="232.70" width="57.70" height="105.60" fill="#f7e425"/><path d="M1437.0 233.2 L1465.85 180.2 L1494.7 233.2Z" fill="#f0f921"/><path d="M1437.0 1282.2 L1465.85 1335.2 L1494.7 1282.2Z" fill="#0d0887"/><path d="M1437.0 232.7 L1465.85 180.2 L1494.7 232.7 L1494.7 1282.7 L1465.85 1335.2 L1437.0 1282.7Z" fill="none" stroke="#000" stroke-width="3.2" stroke-linejoin="miter"/><g style="font-family:'DejaVu Sans Mono','Liberation Mono',monospace;font-size:41.67px" fill="#000"><text x="1524" y="1192.9">0</text><text x="1524" y="982.9">10</text><text x="1524" y="772.9">20</text><text x="1524" y="562.9">30</text><text x="1524" y="352.9">40</text></g><path d="M1494.7 1177.7h15.8M1494.7 967.7h15.8M1494.7 757.7h15.8M1494.7 547.7h15.8M1494.7 337.7h15.8" stroke="#000" stroke-width="3.3"/></svg>
</body></html>
